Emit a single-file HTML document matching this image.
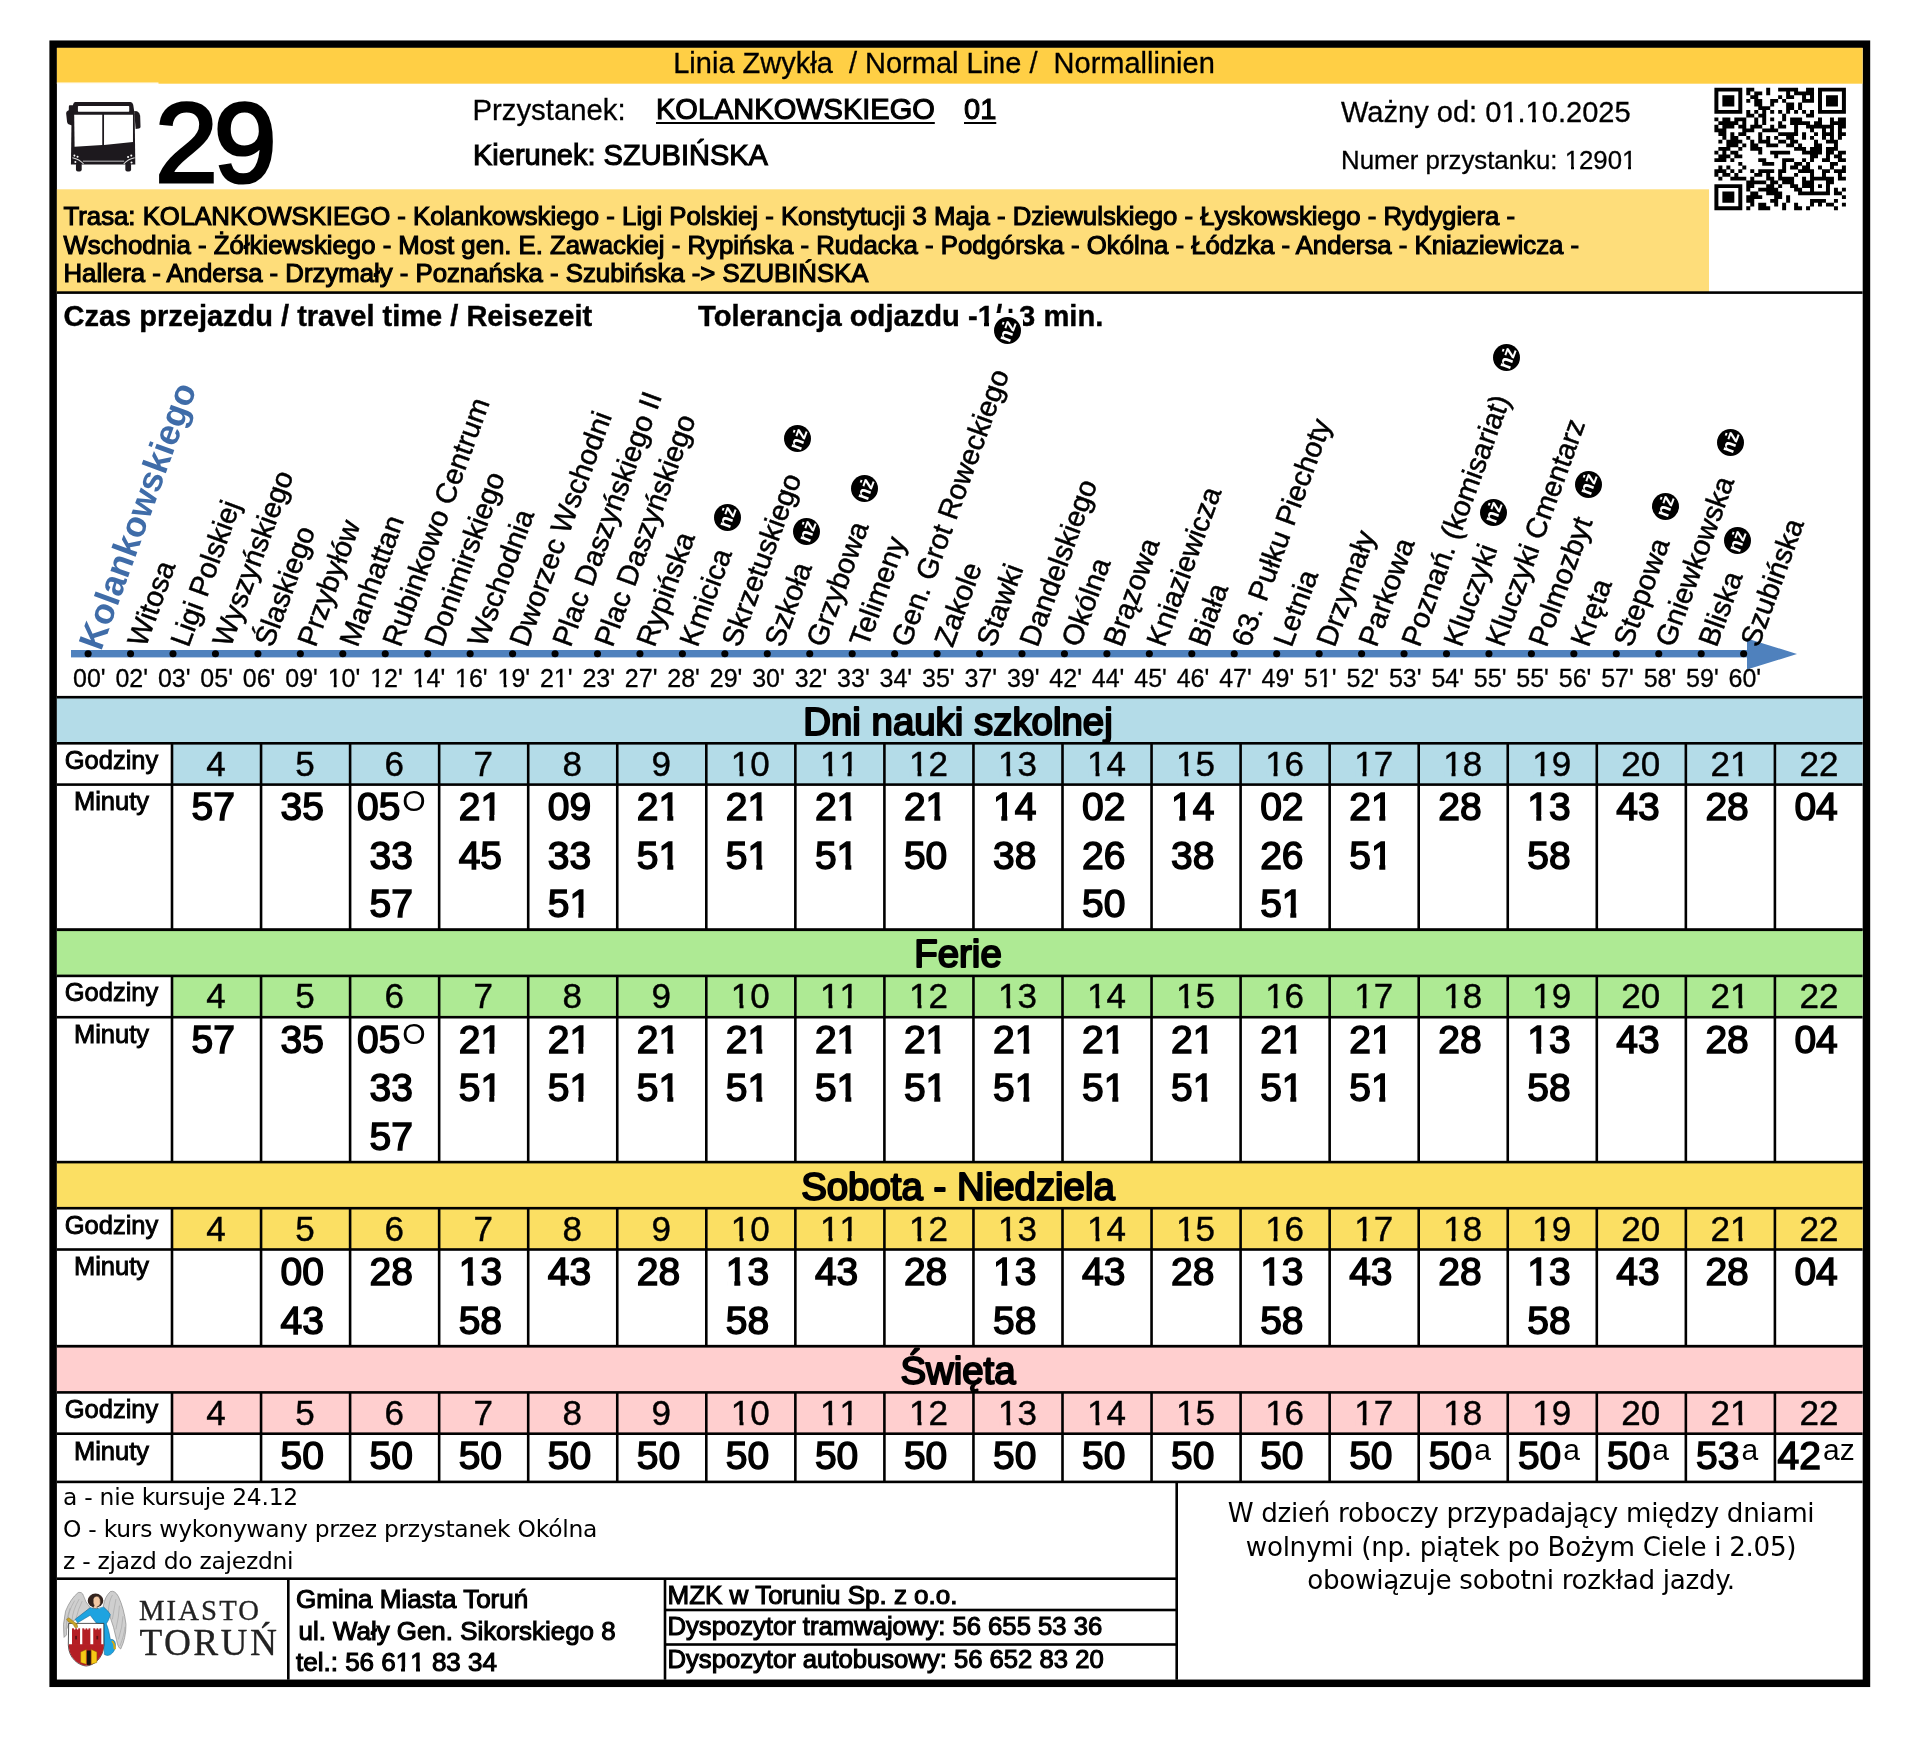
<!DOCTYPE html>
<html lang="pl"><head><meta charset="utf-8"><title>Linia 29 - KOLANKOWSKIEGO 01 - rozkład jazdy</title>
<style>
html,body{margin:0;padding:0;background:#fff;}
body{width:1920px;height:1747px;position:relative;overflow:hidden;font-family:"Liberation Sans",sans-serif;color:#000;}
.t{position:absolute;white-space:pre;line-height:1;margin:0;padding:0;}
.dv{font-family:"DejaVu Sans",sans-serif;}
.sf{font-family:"Liberation Serif",serif;}
.r{position:absolute;}
#sheet{position:absolute;left:0;top:0;width:1920px;height:1747px;will-change:transform;}
svg{position:absolute;left:0;top:0;overflow:visible;}
sup.s{font-size:30px;-webkit-text-stroke:0;vertical-align:baseline;position:relative;top:-9px;margin-left:2px;line-height:0;}
.rot{transform-origin:0 0.8465em;}
.b{font-weight:bold;}
.o{position:relative;display:inline-block;}
.o::before,.o::after{content:"";position:absolute;background:var(--bg,#fff);top:calc(0.72em - var(--s,0.019em));height:calc(0.155em + 2*var(--s,0.019em));}
.o::before{left:0.03em;width:calc(0.2125em - var(--s,0.019em));}
.o::after{left:calc(0.3488em + var(--s,0.019em));width:0.2em;}
.ob{position:relative;display:inline-block;}
.ob::before,.ob::after{content:"";position:absolute;background:var(--bg,#fff);top:calc(0.69em - var(--s,0.019em));height:calc(0.185em + 2*var(--s,0.019em));}
.ob::before{left:0.02em;width:calc(0.2054em - var(--s,0.019em));}
.ob::after{left:calc(0.3786em + var(--s,0.019em));width:0.2em;}
</style></head><body><div id="sheet">
<svg width="1920" height="1747" viewBox="0 0 1920 1747"><rect x="53.15" y="44.2" width="1813.3" height="1639.1" fill="none" stroke="#000" stroke-width="7.5"/><rect x="56.90" y="47.80" width="1805.70" height="35.90" fill="#FFCF45"/><rect x="56.90" y="82.50" width="101.60" height="1.40" fill="#FFFFFF"/><rect x="56.90" y="189.30" width="1652.10" height="103.30" fill="#FEDD7A"/><rect x="56.90" y="291.30" width="1805.70" height="2.60" fill="#000"/><rect x="71.00" y="650.00" width="1681.00" height="7.40" fill="#4F81BD"/><rect x="56.90" y="697.20" width="1805.70" height="46.10" fill="#B4DCE8"/><rect x="172.00" y="743.30" width="1690.60" height="41.30" fill="#B4DCE8"/><rect x="56.90" y="695.90" width="1805.70" height="2.60" fill="#000"/><rect x="56.90" y="742.00" width="1805.70" height="2.60" fill="#000"/><rect x="56.90" y="783.30" width="1805.70" height="2.60" fill="#000"/><rect x="56.90" y="928.40" width="1805.70" height="2.60" fill="#000"/><rect x="170.70" y="743.30" width="2.60" height="186.40" fill="#000"/><rect x="259.75" y="743.30" width="2.60" height="186.40" fill="#000"/><rect x="348.80" y="743.30" width="2.60" height="186.40" fill="#000"/><rect x="437.85" y="743.30" width="2.60" height="186.40" fill="#000"/><rect x="526.90" y="743.30" width="2.60" height="186.40" fill="#000"/><rect x="615.95" y="743.30" width="2.60" height="186.40" fill="#000"/><rect x="705.00" y="743.30" width="2.60" height="186.40" fill="#000"/><rect x="794.05" y="743.30" width="2.60" height="186.40" fill="#000"/><rect x="883.10" y="743.30" width="2.60" height="186.40" fill="#000"/><rect x="972.15" y="743.30" width="2.60" height="186.40" fill="#000"/><rect x="1061.20" y="743.30" width="2.60" height="186.40" fill="#000"/><rect x="1150.25" y="743.30" width="2.60" height="186.40" fill="#000"/><rect x="1239.30" y="743.30" width="2.60" height="186.40" fill="#000"/><rect x="1328.35" y="743.30" width="2.60" height="186.40" fill="#000"/><rect x="1417.40" y="743.30" width="2.60" height="186.40" fill="#000"/><rect x="1506.45" y="743.30" width="2.60" height="186.40" fill="#000"/><rect x="1595.50" y="743.30" width="2.60" height="186.40" fill="#000"/><rect x="1684.55" y="743.30" width="2.60" height="186.40" fill="#000"/><rect x="1773.60" y="743.30" width="2.60" height="186.40" fill="#000"/><rect x="56.90" y="929.80" width="1805.70" height="46.10" fill="#AEEA94"/><rect x="172.00" y="975.90" width="1690.60" height="41.30" fill="#AEEA94"/><rect x="56.90" y="928.50" width="1805.70" height="2.60" fill="#000"/><rect x="56.90" y="974.60" width="1805.70" height="2.60" fill="#000"/><rect x="56.90" y="1015.90" width="1805.70" height="2.60" fill="#000"/><rect x="56.90" y="1161.00" width="1805.70" height="2.60" fill="#000"/><rect x="170.70" y="975.90" width="2.60" height="186.40" fill="#000"/><rect x="259.75" y="975.90" width="2.60" height="186.40" fill="#000"/><rect x="348.80" y="975.90" width="2.60" height="186.40" fill="#000"/><rect x="437.85" y="975.90" width="2.60" height="186.40" fill="#000"/><rect x="526.90" y="975.90" width="2.60" height="186.40" fill="#000"/><rect x="615.95" y="975.90" width="2.60" height="186.40" fill="#000"/><rect x="705.00" y="975.90" width="2.60" height="186.40" fill="#000"/><rect x="794.05" y="975.90" width="2.60" height="186.40" fill="#000"/><rect x="883.10" y="975.90" width="2.60" height="186.40" fill="#000"/><rect x="972.15" y="975.90" width="2.60" height="186.40" fill="#000"/><rect x="1061.20" y="975.90" width="2.60" height="186.40" fill="#000"/><rect x="1150.25" y="975.90" width="2.60" height="186.40" fill="#000"/><rect x="1239.30" y="975.90" width="2.60" height="186.40" fill="#000"/><rect x="1328.35" y="975.90" width="2.60" height="186.40" fill="#000"/><rect x="1417.40" y="975.90" width="2.60" height="186.40" fill="#000"/><rect x="1506.45" y="975.90" width="2.60" height="186.40" fill="#000"/><rect x="1595.50" y="975.90" width="2.60" height="186.40" fill="#000"/><rect x="1684.55" y="975.90" width="2.60" height="186.40" fill="#000"/><rect x="1773.60" y="975.90" width="2.60" height="186.40" fill="#000"/><rect x="56.90" y="1162.10" width="1805.70" height="46.10" fill="#FBDF63"/><rect x="172.00" y="1208.20" width="1690.60" height="41.30" fill="#FBDF63"/><rect x="56.90" y="1160.80" width="1805.70" height="2.60" fill="#000"/><rect x="56.90" y="1206.90" width="1805.70" height="2.60" fill="#000"/><rect x="56.90" y="1248.20" width="1805.70" height="2.60" fill="#000"/><rect x="56.90" y="1344.85" width="1805.70" height="2.60" fill="#000"/><rect x="170.70" y="1208.20" width="2.60" height="137.95" fill="#000"/><rect x="259.75" y="1208.20" width="2.60" height="137.95" fill="#000"/><rect x="348.80" y="1208.20" width="2.60" height="137.95" fill="#000"/><rect x="437.85" y="1208.20" width="2.60" height="137.95" fill="#000"/><rect x="526.90" y="1208.20" width="2.60" height="137.95" fill="#000"/><rect x="615.95" y="1208.20" width="2.60" height="137.95" fill="#000"/><rect x="705.00" y="1208.20" width="2.60" height="137.95" fill="#000"/><rect x="794.05" y="1208.20" width="2.60" height="137.95" fill="#000"/><rect x="883.10" y="1208.20" width="2.60" height="137.95" fill="#000"/><rect x="972.15" y="1208.20" width="2.60" height="137.95" fill="#000"/><rect x="1061.20" y="1208.20" width="2.60" height="137.95" fill="#000"/><rect x="1150.25" y="1208.20" width="2.60" height="137.95" fill="#000"/><rect x="1239.30" y="1208.20" width="2.60" height="137.95" fill="#000"/><rect x="1328.35" y="1208.20" width="2.60" height="137.95" fill="#000"/><rect x="1417.40" y="1208.20" width="2.60" height="137.95" fill="#000"/><rect x="1506.45" y="1208.20" width="2.60" height="137.95" fill="#000"/><rect x="1595.50" y="1208.20" width="2.60" height="137.95" fill="#000"/><rect x="1684.55" y="1208.20" width="2.60" height="137.95" fill="#000"/><rect x="1773.60" y="1208.20" width="2.60" height="137.95" fill="#000"/><rect x="56.90" y="1346.30" width="1805.70" height="46.10" fill="#FFCFCF"/><rect x="172.00" y="1392.40" width="1690.60" height="41.30" fill="#FFCFCF"/><rect x="56.90" y="1345.00" width="1805.70" height="2.60" fill="#000"/><rect x="56.90" y="1391.10" width="1805.70" height="2.60" fill="#000"/><rect x="56.90" y="1432.40" width="1805.70" height="2.60" fill="#000"/><rect x="56.90" y="1480.60" width="1805.70" height="2.60" fill="#000"/><rect x="170.70" y="1392.40" width="2.60" height="89.50" fill="#000"/><rect x="259.75" y="1392.40" width="2.60" height="89.50" fill="#000"/><rect x="348.80" y="1392.40" width="2.60" height="89.50" fill="#000"/><rect x="437.85" y="1392.40" width="2.60" height="89.50" fill="#000"/><rect x="526.90" y="1392.40" width="2.60" height="89.50" fill="#000"/><rect x="615.95" y="1392.40" width="2.60" height="89.50" fill="#000"/><rect x="705.00" y="1392.40" width="2.60" height="89.50" fill="#000"/><rect x="794.05" y="1392.40" width="2.60" height="89.50" fill="#000"/><rect x="883.10" y="1392.40" width="2.60" height="89.50" fill="#000"/><rect x="972.15" y="1392.40" width="2.60" height="89.50" fill="#000"/><rect x="1061.20" y="1392.40" width="2.60" height="89.50" fill="#000"/><rect x="1150.25" y="1392.40" width="2.60" height="89.50" fill="#000"/><rect x="1239.30" y="1392.40" width="2.60" height="89.50" fill="#000"/><rect x="1328.35" y="1392.40" width="2.60" height="89.50" fill="#000"/><rect x="1417.40" y="1392.40" width="2.60" height="89.50" fill="#000"/><rect x="1506.45" y="1392.40" width="2.60" height="89.50" fill="#000"/><rect x="1595.50" y="1392.40" width="2.60" height="89.50" fill="#000"/><rect x="1684.55" y="1392.40" width="2.60" height="89.50" fill="#000"/><rect x="1773.60" y="1392.40" width="2.60" height="89.50" fill="#000"/><rect x="56.90" y="1577.40" width="1119.80" height="2.60" fill="#000"/><rect x="1175.40" y="1481.90" width="2.60" height="197.80" fill="#000"/><rect x="287.00" y="1578.70" width="2.60" height="101.00" fill="#000"/><rect x="663.70" y="1578.70" width="2.60" height="101.00" fill="#000"/><rect x="665.00" y="1608.70" width="511.70" height="2.60" fill="#000"/><rect x="665.00" y="1643.20" width="511.70" height="2.60" fill="#000"/></svg>
<div class="t" style="left:944.00px;top:49.45px;font-size:29px;transform:translateX(-50%);-webkit-text-stroke:0.3px currentColor;">Linia Zwykła  / Normal Line /  Normallinien</div>
<div class="t" style="left:155.00px;top:87.35px;font-size:113px;-webkit-text-stroke:3.2px currentColor;letter-spacing:-4px;">29</div>
<div class="t" style="left:472.50px;top:94.90px;font-size:29.3px;-webkit-text-stroke:0.3px currentColor;">Przystanek:</div>
<div class="t" style="left:656.00px;top:95.15px;font-size:29px;-webkit-text-stroke:1.1px currentColor;text-decoration:underline;text-decoration-thickness:2px;text-underline-offset:3px;">KOLANKOWSKIEGO</div>
<div class="t" style="left:964.00px;top:95.15px;font-size:29px;-webkit-text-stroke:1.1px currentColor;text-decoration:underline;text-decoration-thickness:2px;text-underline-offset:3px;">01</div>
<div class="t" style="left:473.00px;top:141.05px;font-size:29px;-webkit-text-stroke:1.1px currentColor;">Kierunek: SZUBIŃSKA</div>
<div class="t" style="left:1341.00px;top:97.91px;font-size:29.05px;-webkit-text-stroke:0.3px currentColor;--s:0.0052em;">Ważny od: 0<span class="o">1</span>.<span class="o">1</span>0.2025</div>
<div class="t" style="left:1341.00px;top:148.46px;font-size:25.8px;-webkit-text-stroke:0.3px currentColor;--s:0.0058em;">Numer przystanku: <span class="o">1</span>290<span class="o">1</span></div>
<div class="t" style="left:63.50px;top:204.00px;font-size:25.75px;-webkit-text-stroke:1.1px currentColor;">Trasa: KOLANKOWSKIEGO - Kolankowskiego - Ligi Polskiej - Konstytucji 3 Maja - Dziewulskiego - Łyskowskiego - Rydygiera -</div>
<div class="t" style="left:63.50px;top:232.70px;font-size:25.75px;-webkit-text-stroke:1.1px currentColor;">Wschodnia - Żółkiewskiego - Most gen. E. Zawackiej - Rypińska - Rudacka - Podgórska - Okólna - Łódzka - Andersa - Kniaziewicza -</div>
<div class="t" style="left:63.50px;top:261.40px;font-size:25.75px;-webkit-text-stroke:1.1px currentColor;">Hallera - Andersa - Drzymały - Poznańska - Szubińska -&gt; SZUBIŃSKA</div>
<div class="t  b" style="left:63.50px;top:302.45px;font-size:29.0px;-webkit-text-stroke:0.4px currentColor;">Czas przejazdu / travel time / Reisezeit</div>
<div class="t  b" style="left:698.00px;top:302.31px;font-size:29.17px;-webkit-text-stroke:0.4px currentColor;--s:0.0069em;">Tolerancja odjazdu -<span class="ob">1</span>/+3 min.</div>
<svg width="1920" height="1747" viewBox="0 0 1920 1747"><polygon points="1747,638.5 1797,654 1747,669.5" fill="#4F81BD"/><circle cx="88.10" cy="653.7" r="3.55" fill="#000"/><circle cx="130.55" cy="653.7" r="3.55" fill="#000"/><circle cx="173.00" cy="653.7" r="3.55" fill="#000"/><circle cx="215.45" cy="653.7" r="3.55" fill="#000"/><circle cx="257.90" cy="653.7" r="3.55" fill="#000"/><circle cx="300.35" cy="653.7" r="3.55" fill="#000"/><circle cx="342.80" cy="653.7" r="3.55" fill="#000"/><circle cx="385.25" cy="653.7" r="3.55" fill="#000"/><circle cx="427.70" cy="653.7" r="3.55" fill="#000"/><circle cx="470.15" cy="653.7" r="3.55" fill="#000"/><circle cx="512.60" cy="653.7" r="3.55" fill="#000"/><circle cx="555.05" cy="653.7" r="3.55" fill="#000"/><circle cx="597.50" cy="653.7" r="3.55" fill="#000"/><circle cx="639.95" cy="653.7" r="3.55" fill="#000"/><circle cx="682.40" cy="653.7" r="3.55" fill="#000"/><circle cx="724.85" cy="653.7" r="3.55" fill="#000"/><circle cx="767.30" cy="653.7" r="3.55" fill="#000"/><circle cx="809.75" cy="653.7" r="3.55" fill="#000"/><circle cx="852.20" cy="653.7" r="3.55" fill="#000"/><circle cx="894.65" cy="653.7" r="3.55" fill="#000"/><circle cx="937.10" cy="653.7" r="3.55" fill="#000"/><circle cx="979.55" cy="653.7" r="3.55" fill="#000"/><circle cx="1022.00" cy="653.7" r="3.55" fill="#000"/><circle cx="1064.45" cy="653.7" r="3.55" fill="#000"/><circle cx="1106.90" cy="653.7" r="3.55" fill="#000"/><circle cx="1149.35" cy="653.7" r="3.55" fill="#000"/><circle cx="1191.80" cy="653.7" r="3.55" fill="#000"/><circle cx="1234.25" cy="653.7" r="3.55" fill="#000"/><circle cx="1276.70" cy="653.7" r="3.55" fill="#000"/><circle cx="1319.15" cy="653.7" r="3.55" fill="#000"/><circle cx="1361.60" cy="653.7" r="3.55" fill="#000"/><circle cx="1404.05" cy="653.7" r="3.55" fill="#000"/><circle cx="1446.50" cy="653.7" r="3.55" fill="#000"/><circle cx="1488.95" cy="653.7" r="3.55" fill="#000"/><circle cx="1531.40" cy="653.7" r="3.55" fill="#000"/><circle cx="1573.85" cy="653.7" r="3.55" fill="#000"/><circle cx="1616.30" cy="653.7" r="3.55" fill="#000"/><circle cx="1658.75" cy="653.7" r="3.55" fill="#000"/><circle cx="1701.20" cy="653.7" r="3.55" fill="#000"/><circle cx="1743.65" cy="653.7" r="3.55" fill="#000"/></svg>
<div class="t" style="left:89.30px;top:665.94px;font-size:25px;transform:translateX(-50%);-webkit-text-stroke:0.3px currentColor;--s:0.0060em;">00&#x27;</div>
<div class="t  rot b" style="left:101.60px;top:622.15px;font-size:35.5px;color:#3F6CA8;transform:rotate(-70deg);">Kolankowskiego</div>
<div class="t" style="left:131.75px;top:665.94px;font-size:25px;transform:translateX(-50%);-webkit-text-stroke:0.3px currentColor;--s:0.0060em;">02&#x27;</div>
<div class="t  rot" style="left:146.05px;top:623.64px;font-size:28.9px;-webkit-text-stroke:0.5px currentColor;transform:rotate(-70deg);">Witosa</div>
<div class="t" style="left:174.20px;top:665.94px;font-size:25px;transform:translateX(-50%);-webkit-text-stroke:0.3px currentColor;--s:0.0060em;">03&#x27;</div>
<div class="t  rot" style="left:188.50px;top:623.64px;font-size:28.9px;-webkit-text-stroke:0.5px currentColor;transform:rotate(-70deg);">Ligi Polskiej</div>
<div class="t" style="left:216.65px;top:665.94px;font-size:25px;transform:translateX(-50%);-webkit-text-stroke:0.3px currentColor;--s:0.0060em;">05&#x27;</div>
<div class="t  rot" style="left:230.95px;top:623.64px;font-size:28.9px;-webkit-text-stroke:0.5px currentColor;transform:rotate(-70deg);">Wyszyńskiego</div>
<div class="t" style="left:259.10px;top:665.94px;font-size:25px;transform:translateX(-50%);-webkit-text-stroke:0.3px currentColor;--s:0.0060em;">06&#x27;</div>
<div class="t  rot" style="left:273.40px;top:623.64px;font-size:28.9px;-webkit-text-stroke:0.5px currentColor;transform:rotate(-70deg);">Ślaskiego</div>
<div class="t" style="left:301.55px;top:665.94px;font-size:25px;transform:translateX(-50%);-webkit-text-stroke:0.3px currentColor;--s:0.0060em;">09&#x27;</div>
<div class="t  rot" style="left:315.85px;top:623.64px;font-size:28.9px;-webkit-text-stroke:0.5px currentColor;transform:rotate(-70deg);">Przybyłów</div>
<div class="t" style="left:344.00px;top:665.94px;font-size:25px;transform:translateX(-50%);-webkit-text-stroke:0.3px currentColor;--s:0.0060em;"><span class="o">1</span>0&#x27;</div>
<div class="t  rot" style="left:358.30px;top:623.64px;font-size:28.9px;-webkit-text-stroke:0.5px currentColor;transform:rotate(-70deg);">Manhattan</div>
<div class="t" style="left:386.45px;top:665.94px;font-size:25px;transform:translateX(-50%);-webkit-text-stroke:0.3px currentColor;--s:0.0060em;"><span class="o">1</span>2&#x27;</div>
<div class="t  rot" style="left:400.75px;top:623.64px;font-size:28.9px;-webkit-text-stroke:0.5px currentColor;transform:rotate(-70deg);">Rubinkowo Centrum</div>
<div class="t" style="left:428.90px;top:665.94px;font-size:25px;transform:translateX(-50%);-webkit-text-stroke:0.3px currentColor;--s:0.0060em;"><span class="o">1</span>4&#x27;</div>
<div class="t  rot" style="left:443.20px;top:623.64px;font-size:28.9px;-webkit-text-stroke:0.5px currentColor;transform:rotate(-70deg);">Donimirskiego</div>
<div class="t" style="left:471.35px;top:665.94px;font-size:25px;transform:translateX(-50%);-webkit-text-stroke:0.3px currentColor;--s:0.0060em;"><span class="o">1</span>6&#x27;</div>
<div class="t  rot" style="left:485.65px;top:623.64px;font-size:28.9px;-webkit-text-stroke:0.5px currentColor;transform:rotate(-70deg);">Wschodnia</div>
<div class="t" style="left:513.80px;top:665.94px;font-size:25px;transform:translateX(-50%);-webkit-text-stroke:0.3px currentColor;--s:0.0060em;"><span class="o">1</span>9&#x27;</div>
<div class="t  rot" style="left:528.10px;top:623.64px;font-size:28.9px;-webkit-text-stroke:0.5px currentColor;transform:rotate(-70deg);">Dworzec Wschodni</div>
<div class="t" style="left:556.25px;top:665.94px;font-size:25px;transform:translateX(-50%);-webkit-text-stroke:0.3px currentColor;--s:0.0060em;">2<span class="o">1</span>&#x27;</div>
<div class="t  rot" style="left:570.55px;top:623.64px;font-size:28.9px;-webkit-text-stroke:0.5px currentColor;transform:rotate(-70deg);">Plac Daszyńskiego II</div>
<div class="t" style="left:598.70px;top:665.94px;font-size:25px;transform:translateX(-50%);-webkit-text-stroke:0.3px currentColor;--s:0.0060em;">23&#x27;</div>
<div class="t  rot" style="left:613.00px;top:623.64px;font-size:28.9px;-webkit-text-stroke:0.5px currentColor;transform:rotate(-70deg);">Plac Daszyńskiego</div>
<div class="t" style="left:641.15px;top:665.94px;font-size:25px;transform:translateX(-50%);-webkit-text-stroke:0.3px currentColor;--s:0.0060em;">27&#x27;</div>
<div class="t  rot" style="left:655.45px;top:623.64px;font-size:28.9px;-webkit-text-stroke:0.5px currentColor;transform:rotate(-70deg);">Rypińska</div>
<div class="t" style="left:683.60px;top:665.94px;font-size:25px;transform:translateX(-50%);-webkit-text-stroke:0.3px currentColor;--s:0.0060em;">28&#x27;</div>
<div class="t  rot" style="left:697.90px;top:623.64px;font-size:28.9px;-webkit-text-stroke:0.5px currentColor;transform:rotate(-70deg);">Kmicica</div>
<div class="t" style="left:726.05px;top:665.94px;font-size:25px;transform:translateX(-50%);-webkit-text-stroke:0.3px currentColor;--s:0.0060em;">29&#x27;</div>
<div class="t  rot" style="left:740.35px;top:623.64px;font-size:28.9px;-webkit-text-stroke:0.5px currentColor;transform:rotate(-70deg);">Skrzetuskiego</div>
<div class="t" style="left:768.50px;top:665.94px;font-size:25px;transform:translateX(-50%);-webkit-text-stroke:0.3px currentColor;--s:0.0060em;">30&#x27;</div>
<div class="t  rot" style="left:782.80px;top:623.64px;font-size:28.9px;-webkit-text-stroke:0.5px currentColor;transform:rotate(-70deg);">Szkoła</div>
<div class="t" style="left:810.95px;top:665.94px;font-size:25px;transform:translateX(-50%);-webkit-text-stroke:0.3px currentColor;--s:0.0060em;">32&#x27;</div>
<div class="t  rot" style="left:825.25px;top:623.64px;font-size:28.9px;-webkit-text-stroke:0.5px currentColor;transform:rotate(-70deg);">Grzybowa</div>
<div class="t" style="left:853.40px;top:665.94px;font-size:25px;transform:translateX(-50%);-webkit-text-stroke:0.3px currentColor;--s:0.0060em;">33&#x27;</div>
<div class="t  rot" style="left:867.70px;top:623.64px;font-size:28.9px;-webkit-text-stroke:0.5px currentColor;transform:rotate(-70deg);">Telimeny</div>
<div class="t" style="left:895.85px;top:665.94px;font-size:25px;transform:translateX(-50%);-webkit-text-stroke:0.3px currentColor;--s:0.0060em;">34&#x27;</div>
<div class="t  rot" style="left:910.15px;top:623.64px;font-size:28.9px;-webkit-text-stroke:0.5px currentColor;transform:rotate(-70deg);">Gen. Grot Roweckiego</div>
<div class="t" style="left:938.30px;top:665.94px;font-size:25px;transform:translateX(-50%);-webkit-text-stroke:0.3px currentColor;--s:0.0060em;">35&#x27;</div>
<div class="t  rot" style="left:952.60px;top:623.64px;font-size:28.9px;-webkit-text-stroke:0.5px currentColor;transform:rotate(-70deg);">Zakole</div>
<div class="t" style="left:980.75px;top:665.94px;font-size:25px;transform:translateX(-50%);-webkit-text-stroke:0.3px currentColor;--s:0.0060em;">37&#x27;</div>
<div class="t  rot" style="left:995.05px;top:623.64px;font-size:28.9px;-webkit-text-stroke:0.5px currentColor;transform:rotate(-70deg);">Stawki</div>
<div class="t" style="left:1023.20px;top:665.94px;font-size:25px;transform:translateX(-50%);-webkit-text-stroke:0.3px currentColor;--s:0.0060em;">39&#x27;</div>
<div class="t  rot" style="left:1037.50px;top:623.64px;font-size:28.9px;-webkit-text-stroke:0.5px currentColor;transform:rotate(-70deg);">Dandelskiego</div>
<div class="t" style="left:1065.65px;top:665.94px;font-size:25px;transform:translateX(-50%);-webkit-text-stroke:0.3px currentColor;--s:0.0060em;">42&#x27;</div>
<div class="t  rot" style="left:1079.95px;top:623.64px;font-size:28.9px;-webkit-text-stroke:0.5px currentColor;transform:rotate(-70deg);">Okólna</div>
<div class="t" style="left:1108.10px;top:665.94px;font-size:25px;transform:translateX(-50%);-webkit-text-stroke:0.3px currentColor;--s:0.0060em;">44&#x27;</div>
<div class="t  rot" style="left:1122.40px;top:623.64px;font-size:28.9px;-webkit-text-stroke:0.5px currentColor;transform:rotate(-70deg);">Brązowa</div>
<div class="t" style="left:1150.55px;top:665.94px;font-size:25px;transform:translateX(-50%);-webkit-text-stroke:0.3px currentColor;--s:0.0060em;">45&#x27;</div>
<div class="t  rot" style="left:1164.85px;top:623.64px;font-size:28.9px;-webkit-text-stroke:0.5px currentColor;transform:rotate(-70deg);">Kniaziewicza</div>
<div class="t" style="left:1193.00px;top:665.94px;font-size:25px;transform:translateX(-50%);-webkit-text-stroke:0.3px currentColor;--s:0.0060em;">46&#x27;</div>
<div class="t  rot" style="left:1207.30px;top:623.64px;font-size:28.9px;-webkit-text-stroke:0.5px currentColor;transform:rotate(-70deg);">Biała</div>
<div class="t" style="left:1235.45px;top:665.94px;font-size:25px;transform:translateX(-50%);-webkit-text-stroke:0.3px currentColor;--s:0.0060em;">47&#x27;</div>
<div class="t  rot" style="left:1249.75px;top:623.64px;font-size:28.9px;-webkit-text-stroke:0.5px currentColor;transform:rotate(-70deg);">63. Pułku Piechoty</div>
<div class="t" style="left:1277.90px;top:665.94px;font-size:25px;transform:translateX(-50%);-webkit-text-stroke:0.3px currentColor;--s:0.0060em;">49&#x27;</div>
<div class="t  rot" style="left:1292.20px;top:623.64px;font-size:28.9px;-webkit-text-stroke:0.5px currentColor;transform:rotate(-70deg);">Letnia</div>
<div class="t" style="left:1320.35px;top:665.94px;font-size:25px;transform:translateX(-50%);-webkit-text-stroke:0.3px currentColor;--s:0.0060em;">5<span class="o">1</span>&#x27;</div>
<div class="t  rot" style="left:1334.65px;top:623.64px;font-size:28.9px;-webkit-text-stroke:0.5px currentColor;transform:rotate(-70deg);">Drzymały</div>
<div class="t" style="left:1362.80px;top:665.94px;font-size:25px;transform:translateX(-50%);-webkit-text-stroke:0.3px currentColor;--s:0.0060em;">52&#x27;</div>
<div class="t  rot" style="left:1377.10px;top:623.64px;font-size:28.9px;-webkit-text-stroke:0.5px currentColor;transform:rotate(-70deg);">Parkowa</div>
<div class="t" style="left:1405.25px;top:665.94px;font-size:25px;transform:translateX(-50%);-webkit-text-stroke:0.3px currentColor;--s:0.0060em;">53&#x27;</div>
<div class="t  rot" style="left:1419.55px;top:623.64px;font-size:28.9px;-webkit-text-stroke:0.5px currentColor;transform:rotate(-70deg);">Poznań. (komisariat)</div>
<div class="t" style="left:1447.70px;top:665.94px;font-size:25px;transform:translateX(-50%);-webkit-text-stroke:0.3px currentColor;--s:0.0060em;">54&#x27;</div>
<div class="t  rot" style="left:1462.00px;top:623.64px;font-size:28.9px;-webkit-text-stroke:0.5px currentColor;transform:rotate(-70deg);">Kluczyki</div>
<div class="t" style="left:1490.15px;top:665.94px;font-size:25px;transform:translateX(-50%);-webkit-text-stroke:0.3px currentColor;--s:0.0060em;">55&#x27;</div>
<div class="t  rot" style="left:1504.45px;top:623.64px;font-size:28.9px;-webkit-text-stroke:0.5px currentColor;transform:rotate(-70deg);">Kluczyki Cmentarz</div>
<div class="t" style="left:1532.60px;top:665.94px;font-size:25px;transform:translateX(-50%);-webkit-text-stroke:0.3px currentColor;--s:0.0060em;">55&#x27;</div>
<div class="t  rot" style="left:1546.90px;top:623.64px;font-size:28.9px;-webkit-text-stroke:0.5px currentColor;transform:rotate(-70deg);">Polmozbyt</div>
<div class="t" style="left:1575.05px;top:665.94px;font-size:25px;transform:translateX(-50%);-webkit-text-stroke:0.3px currentColor;--s:0.0060em;">56&#x27;</div>
<div class="t  rot" style="left:1589.35px;top:623.64px;font-size:28.9px;-webkit-text-stroke:0.5px currentColor;transform:rotate(-70deg);">Kręta</div>
<div class="t" style="left:1617.50px;top:665.94px;font-size:25px;transform:translateX(-50%);-webkit-text-stroke:0.3px currentColor;--s:0.0060em;">57&#x27;</div>
<div class="t  rot" style="left:1631.80px;top:623.64px;font-size:28.9px;-webkit-text-stroke:0.5px currentColor;transform:rotate(-70deg);">Stepowa</div>
<div class="t" style="left:1659.95px;top:665.94px;font-size:25px;transform:translateX(-50%);-webkit-text-stroke:0.3px currentColor;--s:0.0060em;">58&#x27;</div>
<div class="t  rot" style="left:1674.25px;top:623.64px;font-size:28.9px;-webkit-text-stroke:0.5px currentColor;transform:rotate(-70deg);">Gniewkowska</div>
<div class="t" style="left:1702.40px;top:665.94px;font-size:25px;transform:translateX(-50%);-webkit-text-stroke:0.3px currentColor;--s:0.0060em;">59&#x27;</div>
<div class="t  rot" style="left:1716.70px;top:623.64px;font-size:28.9px;-webkit-text-stroke:0.5px currentColor;transform:rotate(-70deg);">Bliska</div>
<div class="t" style="left:1744.85px;top:665.94px;font-size:25px;transform:translateX(-50%);-webkit-text-stroke:0.3px currentColor;--s:0.0060em;">60&#x27;</div>
<div class="t  rot" style="left:1759.15px;top:623.64px;font-size:28.9px;-webkit-text-stroke:0.5px currentColor;transform:rotate(-70deg);">Szubińska</div>
<div class="r" style="left:711.5px;top:499.8px;width:31px;height:35px;background:#fff;"></div>
<div class="r" style="left:713.5px;top:503.8px;width:27px;height:27px;border-radius:50%;background:#000;"></div>
<div class="t b" style="left:727.0px;top:517.3px;font-size:19px;color:#fff;transform:translate(-50%,-50%) rotate(-70deg);">nż</div>
<div class="r" style="left:782.0px;top:421.0px;width:31px;height:35px;background:#fff;"></div>
<div class="r" style="left:784.0px;top:425.0px;width:27px;height:27px;border-radius:50%;background:#000;"></div>
<div class="t b" style="left:797.5px;top:438.5px;font-size:19px;color:#fff;transform:translate(-50%,-50%) rotate(-70deg);">nż</div>
<div class="r" style="left:791.3px;top:513.5px;width:31px;height:35px;background:#fff;"></div>
<div class="r" style="left:793.3px;top:517.5px;width:27px;height:27px;border-radius:50%;background:#000;"></div>
<div class="t b" style="left:806.8px;top:531.0px;font-size:19px;color:#fff;transform:translate(-50%,-50%) rotate(-70deg);">nż</div>
<div class="r" style="left:849.0px;top:471.2px;width:31px;height:35px;background:#fff;"></div>
<div class="r" style="left:851.0px;top:475.2px;width:27px;height:27px;border-radius:50%;background:#000;"></div>
<div class="t b" style="left:864.5px;top:488.7px;font-size:19px;color:#fff;transform:translate(-50%,-50%) rotate(-70deg);">nż</div>
<div class="r" style="left:991.7px;top:313.4px;width:31px;height:35px;background:#fff;"></div>
<div class="r" style="left:993.7px;top:317.4px;width:27px;height:27px;border-radius:50%;background:#000;"></div>
<div class="t b" style="left:1007.2px;top:330.9px;font-size:19px;color:#fff;transform:translate(-50%,-50%) rotate(-70deg);">nż</div>
<div class="r" style="left:1491.0px;top:340.3px;width:31px;height:35px;background:#fff;"></div>
<div class="r" style="left:1493.0px;top:344.3px;width:27px;height:27px;border-radius:50%;background:#000;"></div>
<div class="t b" style="left:1506.5px;top:357.8px;font-size:19px;color:#fff;transform:translate(-50%,-50%) rotate(-70deg);">nż</div>
<div class="r" style="left:1477.5px;top:494.5px;width:31px;height:35px;background:#fff;"></div>
<div class="r" style="left:1479.5px;top:498.5px;width:27px;height:27px;border-radius:50%;background:#000;"></div>
<div class="t b" style="left:1493.0px;top:512.0px;font-size:19px;color:#fff;transform:translate(-50%,-50%) rotate(-70deg);">nż</div>
<div class="r" style="left:1572.8px;top:466.5px;width:31px;height:35px;background:#fff;"></div>
<div class="r" style="left:1574.8px;top:470.5px;width:27px;height:27px;border-radius:50%;background:#000;"></div>
<div class="t b" style="left:1588.3px;top:484.0px;font-size:19px;color:#fff;transform:translate(-50%,-50%) rotate(-70deg);">nż</div>
<div class="r" style="left:1649.5px;top:488.8px;width:31px;height:35px;background:#fff;"></div>
<div class="r" style="left:1651.5px;top:492.8px;width:27px;height:27px;border-radius:50%;background:#000;"></div>
<div class="t b" style="left:1665.0px;top:506.3px;font-size:19px;color:#fff;transform:translate(-50%,-50%) rotate(-70deg);">nż</div>
<div class="r" style="left:1714.8px;top:424.5px;width:31px;height:35px;background:#fff;"></div>
<div class="r" style="left:1716.8px;top:428.5px;width:27px;height:27px;border-radius:50%;background:#000;"></div>
<div class="t b" style="left:1730.3px;top:442.0px;font-size:19px;color:#fff;transform:translate(-50%,-50%) rotate(-70deg);">nż</div>
<div class="r" style="left:1721.5px;top:523.1px;width:31px;height:35px;background:#fff;"></div>
<div class="r" style="left:1723.5px;top:527.1px;width:27px;height:27px;border-radius:50%;background:#000;"></div>
<div class="t b" style="left:1737.0px;top:540.6px;font-size:19px;color:#fff;transform:translate(-50%,-50%) rotate(-70deg);">nż</div>
<svg width="1920" height="1747" viewBox="0 0 1920 1747"><text x="958" y="734.80" text-anchor="middle" font-family="Liberation Sans, sans-serif" font-size="38.4" fill="#000" stroke="#000" stroke-width="2" stroke-linejoin="round">Dni nauki szkolnej</text></svg>
<div class="t" style="left:111.50px;top:747.61px;font-size:25.5px;transform:translateX(-50%);-webkit-text-stroke:0.9px currentColor;">Godziny</div>
<div class="t" style="left:111.50px;top:789.41px;font-size:25.5px;transform:translateX(-50%);-webkit-text-stroke:0.9px currentColor;">Minuty</div>
<div class="t" style="left:216.03px;top:745.87px;font-size:35px;transform:translateX(-50%);-webkit-text-stroke:0.4px currentColor;--bg:#B4DCE8;--s:0.006em;">4</div>
<div class="t" style="left:213.22px;top:787.39px;font-size:39px;transform:translateX(-50%);-webkit-text-stroke:1.5px currentColor;">57</div>
<div class="t" style="left:305.07px;top:745.87px;font-size:35px;transform:translateX(-50%);-webkit-text-stroke:0.4px currentColor;--bg:#B4DCE8;--s:0.006em;">5</div>
<div class="t" style="left:302.27px;top:787.39px;font-size:39px;transform:translateX(-50%);-webkit-text-stroke:1.5px currentColor;">35</div>
<div class="t" style="left:394.12px;top:745.87px;font-size:35px;transform:translateX(-50%);-webkit-text-stroke:0.4px currentColor;--bg:#B4DCE8;--s:0.006em;">6</div>
<div class="t" style="left:391.32px;top:787.39px;font-size:39px;transform:translateX(-50%);-webkit-text-stroke:1.5px currentColor;">05<sup class="s">O</sup></div>
<div class="t" style="left:391.32px;top:835.84px;font-size:39px;transform:translateX(-50%);-webkit-text-stroke:1.5px currentColor;">33</div>
<div class="t" style="left:391.32px;top:884.29px;font-size:39px;transform:translateX(-50%);-webkit-text-stroke:1.5px currentColor;">57</div>
<div class="t" style="left:483.18px;top:745.87px;font-size:35px;transform:translateX(-50%);-webkit-text-stroke:0.4px currentColor;--bg:#B4DCE8;--s:0.006em;">7</div>
<div class="t" style="left:480.38px;top:787.39px;font-size:39px;transform:translateX(-50%);-webkit-text-stroke:1.5px currentColor;">2<span class="o">1</span></div>
<div class="t" style="left:480.38px;top:835.84px;font-size:39px;transform:translateX(-50%);-webkit-text-stroke:1.5px currentColor;">45</div>
<div class="t" style="left:572.22px;top:745.87px;font-size:35px;transform:translateX(-50%);-webkit-text-stroke:0.4px currentColor;--bg:#B4DCE8;--s:0.006em;">8</div>
<div class="t" style="left:569.42px;top:787.39px;font-size:39px;transform:translateX(-50%);-webkit-text-stroke:1.5px currentColor;">09</div>
<div class="t" style="left:569.42px;top:835.84px;font-size:39px;transform:translateX(-50%);-webkit-text-stroke:1.5px currentColor;">33</div>
<div class="t" style="left:569.42px;top:884.29px;font-size:39px;transform:translateX(-50%);-webkit-text-stroke:1.5px currentColor;">5<span class="o">1</span></div>
<div class="t" style="left:661.27px;top:745.87px;font-size:35px;transform:translateX(-50%);-webkit-text-stroke:0.4px currentColor;--bg:#B4DCE8;--s:0.006em;">9</div>
<div class="t" style="left:658.48px;top:787.39px;font-size:39px;transform:translateX(-50%);-webkit-text-stroke:1.5px currentColor;">2<span class="o">1</span></div>
<div class="t" style="left:658.48px;top:835.84px;font-size:39px;transform:translateX(-50%);-webkit-text-stroke:1.5px currentColor;">5<span class="o">1</span></div>
<div class="t" style="left:750.32px;top:745.87px;font-size:35px;transform:translateX(-50%);-webkit-text-stroke:0.4px currentColor;--bg:#B4DCE8;--s:0.006em;"><span class="o">1</span>0</div>
<div class="t" style="left:747.52px;top:787.39px;font-size:39px;transform:translateX(-50%);-webkit-text-stroke:1.5px currentColor;">2<span class="o">1</span></div>
<div class="t" style="left:747.52px;top:835.84px;font-size:39px;transform:translateX(-50%);-webkit-text-stroke:1.5px currentColor;">5<span class="o">1</span></div>
<div class="t" style="left:839.38px;top:745.87px;font-size:35px;transform:translateX(-50%);-webkit-text-stroke:0.4px currentColor;--bg:#B4DCE8;--s:0.006em;"><span class="o">1</span><span class="o">1</span></div>
<div class="t" style="left:836.58px;top:787.39px;font-size:39px;transform:translateX(-50%);-webkit-text-stroke:1.5px currentColor;">2<span class="o">1</span></div>
<div class="t" style="left:836.58px;top:835.84px;font-size:39px;transform:translateX(-50%);-webkit-text-stroke:1.5px currentColor;">5<span class="o">1</span></div>
<div class="t" style="left:928.42px;top:745.87px;font-size:35px;transform:translateX(-50%);-webkit-text-stroke:0.4px currentColor;--bg:#B4DCE8;--s:0.006em;"><span class="o">1</span>2</div>
<div class="t" style="left:925.62px;top:787.39px;font-size:39px;transform:translateX(-50%);-webkit-text-stroke:1.5px currentColor;">2<span class="o">1</span></div>
<div class="t" style="left:925.62px;top:835.84px;font-size:39px;transform:translateX(-50%);-webkit-text-stroke:1.5px currentColor;">50</div>
<div class="t" style="left:1017.48px;top:745.87px;font-size:35px;transform:translateX(-50%);-webkit-text-stroke:0.4px currentColor;--bg:#B4DCE8;--s:0.006em;"><span class="o">1</span>3</div>
<div class="t" style="left:1014.68px;top:787.39px;font-size:39px;transform:translateX(-50%);-webkit-text-stroke:1.5px currentColor;"><span class="o">1</span>4</div>
<div class="t" style="left:1014.68px;top:835.84px;font-size:39px;transform:translateX(-50%);-webkit-text-stroke:1.5px currentColor;">38</div>
<div class="t" style="left:1106.53px;top:745.87px;font-size:35px;transform:translateX(-50%);-webkit-text-stroke:0.4px currentColor;--bg:#B4DCE8;--s:0.006em;"><span class="o">1</span>4</div>
<div class="t" style="left:1103.73px;top:787.39px;font-size:39px;transform:translateX(-50%);-webkit-text-stroke:1.5px currentColor;">02</div>
<div class="t" style="left:1103.73px;top:835.84px;font-size:39px;transform:translateX(-50%);-webkit-text-stroke:1.5px currentColor;">26</div>
<div class="t" style="left:1103.73px;top:884.29px;font-size:39px;transform:translateX(-50%);-webkit-text-stroke:1.5px currentColor;">50</div>
<div class="t" style="left:1195.58px;top:745.87px;font-size:35px;transform:translateX(-50%);-webkit-text-stroke:0.4px currentColor;--bg:#B4DCE8;--s:0.006em;"><span class="o">1</span>5</div>
<div class="t" style="left:1192.78px;top:787.39px;font-size:39px;transform:translateX(-50%);-webkit-text-stroke:1.5px currentColor;"><span class="o">1</span>4</div>
<div class="t" style="left:1192.78px;top:835.84px;font-size:39px;transform:translateX(-50%);-webkit-text-stroke:1.5px currentColor;">38</div>
<div class="t" style="left:1284.62px;top:745.87px;font-size:35px;transform:translateX(-50%);-webkit-text-stroke:0.4px currentColor;--bg:#B4DCE8;--s:0.006em;"><span class="o">1</span>6</div>
<div class="t" style="left:1281.83px;top:787.39px;font-size:39px;transform:translateX(-50%);-webkit-text-stroke:1.5px currentColor;">02</div>
<div class="t" style="left:1281.83px;top:835.84px;font-size:39px;transform:translateX(-50%);-webkit-text-stroke:1.5px currentColor;">26</div>
<div class="t" style="left:1281.83px;top:884.29px;font-size:39px;transform:translateX(-50%);-webkit-text-stroke:1.5px currentColor;">5<span class="o">1</span></div>
<div class="t" style="left:1373.67px;top:745.87px;font-size:35px;transform:translateX(-50%);-webkit-text-stroke:0.4px currentColor;--bg:#B4DCE8;--s:0.006em;"><span class="o">1</span>7</div>
<div class="t" style="left:1370.88px;top:787.39px;font-size:39px;transform:translateX(-50%);-webkit-text-stroke:1.5px currentColor;">2<span class="o">1</span></div>
<div class="t" style="left:1370.88px;top:835.84px;font-size:39px;transform:translateX(-50%);-webkit-text-stroke:1.5px currentColor;">5<span class="o">1</span></div>
<div class="t" style="left:1462.72px;top:745.87px;font-size:35px;transform:translateX(-50%);-webkit-text-stroke:0.4px currentColor;--bg:#B4DCE8;--s:0.006em;"><span class="o">1</span>8</div>
<div class="t" style="left:1459.92px;top:787.39px;font-size:39px;transform:translateX(-50%);-webkit-text-stroke:1.5px currentColor;">28</div>
<div class="t" style="left:1551.77px;top:745.87px;font-size:35px;transform:translateX(-50%);-webkit-text-stroke:0.4px currentColor;--bg:#B4DCE8;--s:0.006em;"><span class="o">1</span>9</div>
<div class="t" style="left:1548.97px;top:787.39px;font-size:39px;transform:translateX(-50%);-webkit-text-stroke:1.5px currentColor;"><span class="o">1</span>3</div>
<div class="t" style="left:1548.97px;top:835.84px;font-size:39px;transform:translateX(-50%);-webkit-text-stroke:1.5px currentColor;">58</div>
<div class="t" style="left:1640.83px;top:745.87px;font-size:35px;transform:translateX(-50%);-webkit-text-stroke:0.4px currentColor;--bg:#B4DCE8;--s:0.006em;">20</div>
<div class="t" style="left:1638.03px;top:787.39px;font-size:39px;transform:translateX(-50%);-webkit-text-stroke:1.5px currentColor;">43</div>
<div class="t" style="left:1729.88px;top:745.87px;font-size:35px;transform:translateX(-50%);-webkit-text-stroke:0.4px currentColor;--bg:#B4DCE8;--s:0.006em;">2<span class="o">1</span></div>
<div class="t" style="left:1727.08px;top:787.39px;font-size:39px;transform:translateX(-50%);-webkit-text-stroke:1.5px currentColor;">28</div>
<div class="t" style="left:1818.92px;top:745.87px;font-size:35px;transform:translateX(-50%);-webkit-text-stroke:0.4px currentColor;--bg:#B4DCE8;--s:0.006em;">22</div>
<div class="t" style="left:1816.12px;top:787.39px;font-size:39px;transform:translateX(-50%);-webkit-text-stroke:1.5px currentColor;">04</div>
<svg width="1920" height="1747" viewBox="0 0 1920 1747"><text x="958" y="967.40" text-anchor="middle" font-family="Liberation Sans, sans-serif" font-size="38.4" fill="#000" stroke="#000" stroke-width="2" stroke-linejoin="round">Ferie</text></svg>
<div class="t" style="left:111.50px;top:980.21px;font-size:25.5px;transform:translateX(-50%);-webkit-text-stroke:0.9px currentColor;">Godziny</div>
<div class="t" style="left:111.50px;top:1022.01px;font-size:25.5px;transform:translateX(-50%);-webkit-text-stroke:0.9px currentColor;">Minuty</div>
<div class="t" style="left:216.03px;top:978.47px;font-size:35px;transform:translateX(-50%);-webkit-text-stroke:0.4px currentColor;--bg:#AEEA94;--s:0.006em;">4</div>
<div class="t" style="left:213.22px;top:1019.99px;font-size:39px;transform:translateX(-50%);-webkit-text-stroke:1.5px currentColor;">57</div>
<div class="t" style="left:305.07px;top:978.47px;font-size:35px;transform:translateX(-50%);-webkit-text-stroke:0.4px currentColor;--bg:#AEEA94;--s:0.006em;">5</div>
<div class="t" style="left:302.27px;top:1019.99px;font-size:39px;transform:translateX(-50%);-webkit-text-stroke:1.5px currentColor;">35</div>
<div class="t" style="left:394.12px;top:978.47px;font-size:35px;transform:translateX(-50%);-webkit-text-stroke:0.4px currentColor;--bg:#AEEA94;--s:0.006em;">6</div>
<div class="t" style="left:391.32px;top:1019.99px;font-size:39px;transform:translateX(-50%);-webkit-text-stroke:1.5px currentColor;">05<sup class="s">O</sup></div>
<div class="t" style="left:391.32px;top:1068.44px;font-size:39px;transform:translateX(-50%);-webkit-text-stroke:1.5px currentColor;">33</div>
<div class="t" style="left:391.32px;top:1116.89px;font-size:39px;transform:translateX(-50%);-webkit-text-stroke:1.5px currentColor;">57</div>
<div class="t" style="left:483.18px;top:978.47px;font-size:35px;transform:translateX(-50%);-webkit-text-stroke:0.4px currentColor;--bg:#AEEA94;--s:0.006em;">7</div>
<div class="t" style="left:480.38px;top:1019.99px;font-size:39px;transform:translateX(-50%);-webkit-text-stroke:1.5px currentColor;">2<span class="o">1</span></div>
<div class="t" style="left:480.38px;top:1068.44px;font-size:39px;transform:translateX(-50%);-webkit-text-stroke:1.5px currentColor;">5<span class="o">1</span></div>
<div class="t" style="left:572.22px;top:978.47px;font-size:35px;transform:translateX(-50%);-webkit-text-stroke:0.4px currentColor;--bg:#AEEA94;--s:0.006em;">8</div>
<div class="t" style="left:569.42px;top:1019.99px;font-size:39px;transform:translateX(-50%);-webkit-text-stroke:1.5px currentColor;">2<span class="o">1</span></div>
<div class="t" style="left:569.42px;top:1068.44px;font-size:39px;transform:translateX(-50%);-webkit-text-stroke:1.5px currentColor;">5<span class="o">1</span></div>
<div class="t" style="left:661.27px;top:978.47px;font-size:35px;transform:translateX(-50%);-webkit-text-stroke:0.4px currentColor;--bg:#AEEA94;--s:0.006em;">9</div>
<div class="t" style="left:658.48px;top:1019.99px;font-size:39px;transform:translateX(-50%);-webkit-text-stroke:1.5px currentColor;">2<span class="o">1</span></div>
<div class="t" style="left:658.48px;top:1068.44px;font-size:39px;transform:translateX(-50%);-webkit-text-stroke:1.5px currentColor;">5<span class="o">1</span></div>
<div class="t" style="left:750.32px;top:978.47px;font-size:35px;transform:translateX(-50%);-webkit-text-stroke:0.4px currentColor;--bg:#AEEA94;--s:0.006em;"><span class="o">1</span>0</div>
<div class="t" style="left:747.52px;top:1019.99px;font-size:39px;transform:translateX(-50%);-webkit-text-stroke:1.5px currentColor;">2<span class="o">1</span></div>
<div class="t" style="left:747.52px;top:1068.44px;font-size:39px;transform:translateX(-50%);-webkit-text-stroke:1.5px currentColor;">5<span class="o">1</span></div>
<div class="t" style="left:839.38px;top:978.47px;font-size:35px;transform:translateX(-50%);-webkit-text-stroke:0.4px currentColor;--bg:#AEEA94;--s:0.006em;"><span class="o">1</span><span class="o">1</span></div>
<div class="t" style="left:836.58px;top:1019.99px;font-size:39px;transform:translateX(-50%);-webkit-text-stroke:1.5px currentColor;">2<span class="o">1</span></div>
<div class="t" style="left:836.58px;top:1068.44px;font-size:39px;transform:translateX(-50%);-webkit-text-stroke:1.5px currentColor;">5<span class="o">1</span></div>
<div class="t" style="left:928.42px;top:978.47px;font-size:35px;transform:translateX(-50%);-webkit-text-stroke:0.4px currentColor;--bg:#AEEA94;--s:0.006em;"><span class="o">1</span>2</div>
<div class="t" style="left:925.62px;top:1019.99px;font-size:39px;transform:translateX(-50%);-webkit-text-stroke:1.5px currentColor;">2<span class="o">1</span></div>
<div class="t" style="left:925.62px;top:1068.44px;font-size:39px;transform:translateX(-50%);-webkit-text-stroke:1.5px currentColor;">5<span class="o">1</span></div>
<div class="t" style="left:1017.48px;top:978.47px;font-size:35px;transform:translateX(-50%);-webkit-text-stroke:0.4px currentColor;--bg:#AEEA94;--s:0.006em;"><span class="o">1</span>3</div>
<div class="t" style="left:1014.68px;top:1019.99px;font-size:39px;transform:translateX(-50%);-webkit-text-stroke:1.5px currentColor;">2<span class="o">1</span></div>
<div class="t" style="left:1014.68px;top:1068.44px;font-size:39px;transform:translateX(-50%);-webkit-text-stroke:1.5px currentColor;">5<span class="o">1</span></div>
<div class="t" style="left:1106.53px;top:978.47px;font-size:35px;transform:translateX(-50%);-webkit-text-stroke:0.4px currentColor;--bg:#AEEA94;--s:0.006em;"><span class="o">1</span>4</div>
<div class="t" style="left:1103.73px;top:1019.99px;font-size:39px;transform:translateX(-50%);-webkit-text-stroke:1.5px currentColor;">2<span class="o">1</span></div>
<div class="t" style="left:1103.73px;top:1068.44px;font-size:39px;transform:translateX(-50%);-webkit-text-stroke:1.5px currentColor;">5<span class="o">1</span></div>
<div class="t" style="left:1195.58px;top:978.47px;font-size:35px;transform:translateX(-50%);-webkit-text-stroke:0.4px currentColor;--bg:#AEEA94;--s:0.006em;"><span class="o">1</span>5</div>
<div class="t" style="left:1192.78px;top:1019.99px;font-size:39px;transform:translateX(-50%);-webkit-text-stroke:1.5px currentColor;">2<span class="o">1</span></div>
<div class="t" style="left:1192.78px;top:1068.44px;font-size:39px;transform:translateX(-50%);-webkit-text-stroke:1.5px currentColor;">5<span class="o">1</span></div>
<div class="t" style="left:1284.62px;top:978.47px;font-size:35px;transform:translateX(-50%);-webkit-text-stroke:0.4px currentColor;--bg:#AEEA94;--s:0.006em;"><span class="o">1</span>6</div>
<div class="t" style="left:1281.83px;top:1019.99px;font-size:39px;transform:translateX(-50%);-webkit-text-stroke:1.5px currentColor;">2<span class="o">1</span></div>
<div class="t" style="left:1281.83px;top:1068.44px;font-size:39px;transform:translateX(-50%);-webkit-text-stroke:1.5px currentColor;">5<span class="o">1</span></div>
<div class="t" style="left:1373.67px;top:978.47px;font-size:35px;transform:translateX(-50%);-webkit-text-stroke:0.4px currentColor;--bg:#AEEA94;--s:0.006em;"><span class="o">1</span>7</div>
<div class="t" style="left:1370.88px;top:1019.99px;font-size:39px;transform:translateX(-50%);-webkit-text-stroke:1.5px currentColor;">2<span class="o">1</span></div>
<div class="t" style="left:1370.88px;top:1068.44px;font-size:39px;transform:translateX(-50%);-webkit-text-stroke:1.5px currentColor;">5<span class="o">1</span></div>
<div class="t" style="left:1462.72px;top:978.47px;font-size:35px;transform:translateX(-50%);-webkit-text-stroke:0.4px currentColor;--bg:#AEEA94;--s:0.006em;"><span class="o">1</span>8</div>
<div class="t" style="left:1459.92px;top:1019.99px;font-size:39px;transform:translateX(-50%);-webkit-text-stroke:1.5px currentColor;">28</div>
<div class="t" style="left:1551.77px;top:978.47px;font-size:35px;transform:translateX(-50%);-webkit-text-stroke:0.4px currentColor;--bg:#AEEA94;--s:0.006em;"><span class="o">1</span>9</div>
<div class="t" style="left:1548.97px;top:1019.99px;font-size:39px;transform:translateX(-50%);-webkit-text-stroke:1.5px currentColor;"><span class="o">1</span>3</div>
<div class="t" style="left:1548.97px;top:1068.44px;font-size:39px;transform:translateX(-50%);-webkit-text-stroke:1.5px currentColor;">58</div>
<div class="t" style="left:1640.83px;top:978.47px;font-size:35px;transform:translateX(-50%);-webkit-text-stroke:0.4px currentColor;--bg:#AEEA94;--s:0.006em;">20</div>
<div class="t" style="left:1638.03px;top:1019.99px;font-size:39px;transform:translateX(-50%);-webkit-text-stroke:1.5px currentColor;">43</div>
<div class="t" style="left:1729.88px;top:978.47px;font-size:35px;transform:translateX(-50%);-webkit-text-stroke:0.4px currentColor;--bg:#AEEA94;--s:0.006em;">2<span class="o">1</span></div>
<div class="t" style="left:1727.08px;top:1019.99px;font-size:39px;transform:translateX(-50%);-webkit-text-stroke:1.5px currentColor;">28</div>
<div class="t" style="left:1818.92px;top:978.47px;font-size:35px;transform:translateX(-50%);-webkit-text-stroke:0.4px currentColor;--bg:#AEEA94;--s:0.006em;">22</div>
<div class="t" style="left:1816.12px;top:1019.99px;font-size:39px;transform:translateX(-50%);-webkit-text-stroke:1.5px currentColor;">04</div>
<svg width="1920" height="1747" viewBox="0 0 1920 1747"><text x="958" y="1199.70" text-anchor="middle" font-family="Liberation Sans, sans-serif" font-size="38.4" fill="#000" stroke="#000" stroke-width="2" stroke-linejoin="round">Sobota - Niedziela</text></svg>
<div class="t" style="left:111.50px;top:1212.51px;font-size:25.5px;transform:translateX(-50%);-webkit-text-stroke:0.9px currentColor;">Godziny</div>
<div class="t" style="left:111.50px;top:1254.31px;font-size:25.5px;transform:translateX(-50%);-webkit-text-stroke:0.9px currentColor;">Minuty</div>
<div class="t" style="left:216.03px;top:1210.77px;font-size:35px;transform:translateX(-50%);-webkit-text-stroke:0.4px currentColor;--bg:#FBDF63;--s:0.006em;">4</div>
<div class="t" style="left:305.07px;top:1210.77px;font-size:35px;transform:translateX(-50%);-webkit-text-stroke:0.4px currentColor;--bg:#FBDF63;--s:0.006em;">5</div>
<div class="t" style="left:302.27px;top:1252.29px;font-size:39px;transform:translateX(-50%);-webkit-text-stroke:1.5px currentColor;">00</div>
<div class="t" style="left:302.27px;top:1300.74px;font-size:39px;transform:translateX(-50%);-webkit-text-stroke:1.5px currentColor;">43</div>
<div class="t" style="left:394.12px;top:1210.77px;font-size:35px;transform:translateX(-50%);-webkit-text-stroke:0.4px currentColor;--bg:#FBDF63;--s:0.006em;">6</div>
<div class="t" style="left:391.32px;top:1252.29px;font-size:39px;transform:translateX(-50%);-webkit-text-stroke:1.5px currentColor;">28</div>
<div class="t" style="left:483.18px;top:1210.77px;font-size:35px;transform:translateX(-50%);-webkit-text-stroke:0.4px currentColor;--bg:#FBDF63;--s:0.006em;">7</div>
<div class="t" style="left:480.38px;top:1252.29px;font-size:39px;transform:translateX(-50%);-webkit-text-stroke:1.5px currentColor;"><span class="o">1</span>3</div>
<div class="t" style="left:480.38px;top:1300.74px;font-size:39px;transform:translateX(-50%);-webkit-text-stroke:1.5px currentColor;">58</div>
<div class="t" style="left:572.22px;top:1210.77px;font-size:35px;transform:translateX(-50%);-webkit-text-stroke:0.4px currentColor;--bg:#FBDF63;--s:0.006em;">8</div>
<div class="t" style="left:569.42px;top:1252.29px;font-size:39px;transform:translateX(-50%);-webkit-text-stroke:1.5px currentColor;">43</div>
<div class="t" style="left:661.27px;top:1210.77px;font-size:35px;transform:translateX(-50%);-webkit-text-stroke:0.4px currentColor;--bg:#FBDF63;--s:0.006em;">9</div>
<div class="t" style="left:658.48px;top:1252.29px;font-size:39px;transform:translateX(-50%);-webkit-text-stroke:1.5px currentColor;">28</div>
<div class="t" style="left:750.32px;top:1210.77px;font-size:35px;transform:translateX(-50%);-webkit-text-stroke:0.4px currentColor;--bg:#FBDF63;--s:0.006em;"><span class="o">1</span>0</div>
<div class="t" style="left:747.52px;top:1252.29px;font-size:39px;transform:translateX(-50%);-webkit-text-stroke:1.5px currentColor;"><span class="o">1</span>3</div>
<div class="t" style="left:747.52px;top:1300.74px;font-size:39px;transform:translateX(-50%);-webkit-text-stroke:1.5px currentColor;">58</div>
<div class="t" style="left:839.38px;top:1210.77px;font-size:35px;transform:translateX(-50%);-webkit-text-stroke:0.4px currentColor;--bg:#FBDF63;--s:0.006em;"><span class="o">1</span><span class="o">1</span></div>
<div class="t" style="left:836.58px;top:1252.29px;font-size:39px;transform:translateX(-50%);-webkit-text-stroke:1.5px currentColor;">43</div>
<div class="t" style="left:928.42px;top:1210.77px;font-size:35px;transform:translateX(-50%);-webkit-text-stroke:0.4px currentColor;--bg:#FBDF63;--s:0.006em;"><span class="o">1</span>2</div>
<div class="t" style="left:925.62px;top:1252.29px;font-size:39px;transform:translateX(-50%);-webkit-text-stroke:1.5px currentColor;">28</div>
<div class="t" style="left:1017.48px;top:1210.77px;font-size:35px;transform:translateX(-50%);-webkit-text-stroke:0.4px currentColor;--bg:#FBDF63;--s:0.006em;"><span class="o">1</span>3</div>
<div class="t" style="left:1014.68px;top:1252.29px;font-size:39px;transform:translateX(-50%);-webkit-text-stroke:1.5px currentColor;"><span class="o">1</span>3</div>
<div class="t" style="left:1014.68px;top:1300.74px;font-size:39px;transform:translateX(-50%);-webkit-text-stroke:1.5px currentColor;">58</div>
<div class="t" style="left:1106.53px;top:1210.77px;font-size:35px;transform:translateX(-50%);-webkit-text-stroke:0.4px currentColor;--bg:#FBDF63;--s:0.006em;"><span class="o">1</span>4</div>
<div class="t" style="left:1103.73px;top:1252.29px;font-size:39px;transform:translateX(-50%);-webkit-text-stroke:1.5px currentColor;">43</div>
<div class="t" style="left:1195.58px;top:1210.77px;font-size:35px;transform:translateX(-50%);-webkit-text-stroke:0.4px currentColor;--bg:#FBDF63;--s:0.006em;"><span class="o">1</span>5</div>
<div class="t" style="left:1192.78px;top:1252.29px;font-size:39px;transform:translateX(-50%);-webkit-text-stroke:1.5px currentColor;">28</div>
<div class="t" style="left:1284.62px;top:1210.77px;font-size:35px;transform:translateX(-50%);-webkit-text-stroke:0.4px currentColor;--bg:#FBDF63;--s:0.006em;"><span class="o">1</span>6</div>
<div class="t" style="left:1281.83px;top:1252.29px;font-size:39px;transform:translateX(-50%);-webkit-text-stroke:1.5px currentColor;"><span class="o">1</span>3</div>
<div class="t" style="left:1281.83px;top:1300.74px;font-size:39px;transform:translateX(-50%);-webkit-text-stroke:1.5px currentColor;">58</div>
<div class="t" style="left:1373.67px;top:1210.77px;font-size:35px;transform:translateX(-50%);-webkit-text-stroke:0.4px currentColor;--bg:#FBDF63;--s:0.006em;"><span class="o">1</span>7</div>
<div class="t" style="left:1370.88px;top:1252.29px;font-size:39px;transform:translateX(-50%);-webkit-text-stroke:1.5px currentColor;">43</div>
<div class="t" style="left:1462.72px;top:1210.77px;font-size:35px;transform:translateX(-50%);-webkit-text-stroke:0.4px currentColor;--bg:#FBDF63;--s:0.006em;"><span class="o">1</span>8</div>
<div class="t" style="left:1459.92px;top:1252.29px;font-size:39px;transform:translateX(-50%);-webkit-text-stroke:1.5px currentColor;">28</div>
<div class="t" style="left:1551.77px;top:1210.77px;font-size:35px;transform:translateX(-50%);-webkit-text-stroke:0.4px currentColor;--bg:#FBDF63;--s:0.006em;"><span class="o">1</span>9</div>
<div class="t" style="left:1548.97px;top:1252.29px;font-size:39px;transform:translateX(-50%);-webkit-text-stroke:1.5px currentColor;"><span class="o">1</span>3</div>
<div class="t" style="left:1548.97px;top:1300.74px;font-size:39px;transform:translateX(-50%);-webkit-text-stroke:1.5px currentColor;">58</div>
<div class="t" style="left:1640.83px;top:1210.77px;font-size:35px;transform:translateX(-50%);-webkit-text-stroke:0.4px currentColor;--bg:#FBDF63;--s:0.006em;">20</div>
<div class="t" style="left:1638.03px;top:1252.29px;font-size:39px;transform:translateX(-50%);-webkit-text-stroke:1.5px currentColor;">43</div>
<div class="t" style="left:1729.88px;top:1210.77px;font-size:35px;transform:translateX(-50%);-webkit-text-stroke:0.4px currentColor;--bg:#FBDF63;--s:0.006em;">2<span class="o">1</span></div>
<div class="t" style="left:1727.08px;top:1252.29px;font-size:39px;transform:translateX(-50%);-webkit-text-stroke:1.5px currentColor;">28</div>
<div class="t" style="left:1818.92px;top:1210.77px;font-size:35px;transform:translateX(-50%);-webkit-text-stroke:0.4px currentColor;--bg:#FBDF63;--s:0.006em;">22</div>
<div class="t" style="left:1816.12px;top:1252.29px;font-size:39px;transform:translateX(-50%);-webkit-text-stroke:1.5px currentColor;">04</div>
<svg width="1920" height="1747" viewBox="0 0 1920 1747"><text x="958" y="1383.90" text-anchor="middle" font-family="Liberation Sans, sans-serif" font-size="38.4" fill="#000" stroke="#000" stroke-width="2" stroke-linejoin="round">Święta</text></svg>
<div class="t" style="left:111.50px;top:1396.71px;font-size:25.5px;transform:translateX(-50%);-webkit-text-stroke:0.9px currentColor;">Godziny</div>
<div class="t" style="left:111.50px;top:1438.51px;font-size:25.5px;transform:translateX(-50%);-webkit-text-stroke:0.9px currentColor;">Minuty</div>
<div class="t" style="left:216.03px;top:1394.97px;font-size:35px;transform:translateX(-50%);-webkit-text-stroke:0.4px currentColor;--bg:#FFCFCF;--s:0.006em;">4</div>
<div class="t" style="left:305.07px;top:1394.97px;font-size:35px;transform:translateX(-50%);-webkit-text-stroke:0.4px currentColor;--bg:#FFCFCF;--s:0.006em;">5</div>
<div class="t" style="left:302.27px;top:1436.49px;font-size:39px;transform:translateX(-50%);-webkit-text-stroke:1.5px currentColor;">50</div>
<div class="t" style="left:394.12px;top:1394.97px;font-size:35px;transform:translateX(-50%);-webkit-text-stroke:0.4px currentColor;--bg:#FFCFCF;--s:0.006em;">6</div>
<div class="t" style="left:391.32px;top:1436.49px;font-size:39px;transform:translateX(-50%);-webkit-text-stroke:1.5px currentColor;">50</div>
<div class="t" style="left:483.18px;top:1394.97px;font-size:35px;transform:translateX(-50%);-webkit-text-stroke:0.4px currentColor;--bg:#FFCFCF;--s:0.006em;">7</div>
<div class="t" style="left:480.38px;top:1436.49px;font-size:39px;transform:translateX(-50%);-webkit-text-stroke:1.5px currentColor;">50</div>
<div class="t" style="left:572.22px;top:1394.97px;font-size:35px;transform:translateX(-50%);-webkit-text-stroke:0.4px currentColor;--bg:#FFCFCF;--s:0.006em;">8</div>
<div class="t" style="left:569.42px;top:1436.49px;font-size:39px;transform:translateX(-50%);-webkit-text-stroke:1.5px currentColor;">50</div>
<div class="t" style="left:661.27px;top:1394.97px;font-size:35px;transform:translateX(-50%);-webkit-text-stroke:0.4px currentColor;--bg:#FFCFCF;--s:0.006em;">9</div>
<div class="t" style="left:658.48px;top:1436.49px;font-size:39px;transform:translateX(-50%);-webkit-text-stroke:1.5px currentColor;">50</div>
<div class="t" style="left:750.32px;top:1394.97px;font-size:35px;transform:translateX(-50%);-webkit-text-stroke:0.4px currentColor;--bg:#FFCFCF;--s:0.006em;"><span class="o">1</span>0</div>
<div class="t" style="left:747.52px;top:1436.49px;font-size:39px;transform:translateX(-50%);-webkit-text-stroke:1.5px currentColor;">50</div>
<div class="t" style="left:839.38px;top:1394.97px;font-size:35px;transform:translateX(-50%);-webkit-text-stroke:0.4px currentColor;--bg:#FFCFCF;--s:0.006em;"><span class="o">1</span><span class="o">1</span></div>
<div class="t" style="left:836.58px;top:1436.49px;font-size:39px;transform:translateX(-50%);-webkit-text-stroke:1.5px currentColor;">50</div>
<div class="t" style="left:928.42px;top:1394.97px;font-size:35px;transform:translateX(-50%);-webkit-text-stroke:0.4px currentColor;--bg:#FFCFCF;--s:0.006em;"><span class="o">1</span>2</div>
<div class="t" style="left:925.62px;top:1436.49px;font-size:39px;transform:translateX(-50%);-webkit-text-stroke:1.5px currentColor;">50</div>
<div class="t" style="left:1017.48px;top:1394.97px;font-size:35px;transform:translateX(-50%);-webkit-text-stroke:0.4px currentColor;--bg:#FFCFCF;--s:0.006em;"><span class="o">1</span>3</div>
<div class="t" style="left:1014.68px;top:1436.49px;font-size:39px;transform:translateX(-50%);-webkit-text-stroke:1.5px currentColor;">50</div>
<div class="t" style="left:1106.53px;top:1394.97px;font-size:35px;transform:translateX(-50%);-webkit-text-stroke:0.4px currentColor;--bg:#FFCFCF;--s:0.006em;"><span class="o">1</span>4</div>
<div class="t" style="left:1103.73px;top:1436.49px;font-size:39px;transform:translateX(-50%);-webkit-text-stroke:1.5px currentColor;">50</div>
<div class="t" style="left:1195.58px;top:1394.97px;font-size:35px;transform:translateX(-50%);-webkit-text-stroke:0.4px currentColor;--bg:#FFCFCF;--s:0.006em;"><span class="o">1</span>5</div>
<div class="t" style="left:1192.78px;top:1436.49px;font-size:39px;transform:translateX(-50%);-webkit-text-stroke:1.5px currentColor;">50</div>
<div class="t" style="left:1284.62px;top:1394.97px;font-size:35px;transform:translateX(-50%);-webkit-text-stroke:0.4px currentColor;--bg:#FFCFCF;--s:0.006em;"><span class="o">1</span>6</div>
<div class="t" style="left:1281.83px;top:1436.49px;font-size:39px;transform:translateX(-50%);-webkit-text-stroke:1.5px currentColor;">50</div>
<div class="t" style="left:1373.67px;top:1394.97px;font-size:35px;transform:translateX(-50%);-webkit-text-stroke:0.4px currentColor;--bg:#FFCFCF;--s:0.006em;"><span class="o">1</span>7</div>
<div class="t" style="left:1370.88px;top:1436.49px;font-size:39px;transform:translateX(-50%);-webkit-text-stroke:1.5px currentColor;">50</div>
<div class="t" style="left:1462.72px;top:1394.97px;font-size:35px;transform:translateX(-50%);-webkit-text-stroke:0.4px currentColor;--bg:#FFCFCF;--s:0.006em;"><span class="o">1</span>8</div>
<div class="t" style="left:1459.92px;top:1436.49px;font-size:39px;transform:translateX(-50%);-webkit-text-stroke:1.5px currentColor;">50<sup class="s">a</sup></div>
<div class="t" style="left:1551.77px;top:1394.97px;font-size:35px;transform:translateX(-50%);-webkit-text-stroke:0.4px currentColor;--bg:#FFCFCF;--s:0.006em;"><span class="o">1</span>9</div>
<div class="t" style="left:1548.97px;top:1436.49px;font-size:39px;transform:translateX(-50%);-webkit-text-stroke:1.5px currentColor;">50<sup class="s">a</sup></div>
<div class="t" style="left:1640.83px;top:1394.97px;font-size:35px;transform:translateX(-50%);-webkit-text-stroke:0.4px currentColor;--bg:#FFCFCF;--s:0.006em;">20</div>
<div class="t" style="left:1638.03px;top:1436.49px;font-size:39px;transform:translateX(-50%);-webkit-text-stroke:1.5px currentColor;">50<sup class="s">a</sup></div>
<div class="t" style="left:1729.88px;top:1394.97px;font-size:35px;transform:translateX(-50%);-webkit-text-stroke:0.4px currentColor;--bg:#FFCFCF;--s:0.006em;">2<span class="o">1</span></div>
<div class="t" style="left:1727.08px;top:1436.49px;font-size:39px;transform:translateX(-50%);-webkit-text-stroke:1.5px currentColor;">53<sup class="s">a</sup></div>
<div class="t" style="left:1818.92px;top:1394.97px;font-size:35px;transform:translateX(-50%);-webkit-text-stroke:0.4px currentColor;--bg:#FFCFCF;--s:0.006em;">22</div>
<div class="t" style="left:1816.12px;top:1436.49px;font-size:39px;transform:translateX(-50%);-webkit-text-stroke:1.5px currentColor;">42<sup class="s">az</sup></div>
<div class="t dv" style="left:63.00px;top:1486.20px;font-size:23.4px;letter-spacing:-0.26px;">a - nie kursuje 24.12</div>
<div class="t dv" style="left:63.00px;top:1518.20px;font-size:23.4px;letter-spacing:-0.26px;">O - kurs wykonywany przez przystanek Okólna</div>
<div class="t dv" style="left:63.00px;top:1550.20px;font-size:23.4px;letter-spacing:-0.26px;">z - zjazd do zajezdni</div>
<div class="t" style="left:296.00px;top:1585.99px;font-size:26px;-webkit-text-stroke:1.1px currentColor;">Gmina Miasta Toruń</div>
<div class="t" style="left:298.50px;top:1618.58px;font-size:25.9px;-webkit-text-stroke:1.1px currentColor;">ul. Wały Gen. Sikorskiego 8</div>
<div class="t" style="left:296.00px;top:1648.99px;font-size:26px;-webkit-text-stroke:1.1px currentColor;--s:0.0212em;">tel.: 56 6<span class="o">1</span><span class="o">1</span> 83 34</div>
<div class="t" style="left:667.50px;top:1581.99px;font-size:26px;-webkit-text-stroke:1.1px currentColor;">MZK w Toruniu Sp. z o.o.</div>
<div class="t" style="left:667.50px;top:1613.79px;font-size:25.65px;-webkit-text-stroke:1.1px currentColor;">Dyspozytor tramwajowy: 56 655 53 36</div>
<div class="t" style="left:667.50px;top:1647.29px;font-size:25.65px;-webkit-text-stroke:1.1px currentColor;">Dyspozytor autobusowy: 56 652 83 20</div>
<div class="t dv" style="left:1521.00px;top:1500.33px;font-size:26.2px;transform:translateX(-50%);letter-spacing:-0.31px;">W dzień roboczy przypadający między dniami</div>
<div class="t dv" style="left:1521.00px;top:1533.63px;font-size:26.2px;transform:translateX(-50%);letter-spacing:-0.31px;">wolnymi (np. piątek po Bożym Ciele i 2.05)</div>
<div class="t dv" style="left:1521.00px;top:1566.93px;font-size:26.2px;transform:translateX(-50%);letter-spacing:-0.31px;">obowiązuje sobotni rozkład jazdy.</div>
<div class="t sf" style="left:139.00px;top:1596.16px;font-size:28.7px;-webkit-text-stroke:0.3px currentColor;color:#222;letter-spacing:2.1px;">MIASTO</div>
<div class="t sf" style="left:139.50px;top:1624.06px;font-size:37.3px;-webkit-text-stroke:0.3px currentColor;color:#222;letter-spacing:2.4px;">TORUŃ</div>
<svg width="90" height="85" viewBox="0 0 1850 1747" style="left:60px;top:95px;">
<g fill="#1d191e">
<path d="M310,145 H1450 Q1490,150 1505,200 L1535,400 L1548,1430 H225 L238,400 L268,200 Q280,150 310,145 Z"/>
<path d="M200,212 H275 L250,628 L175,600 Q148,590 145,550 L126,375 Q126,340 160,325 L180,312 L182,235 Q184,212 200,212 Z"/>
<path d="M1525,328 L1585,332 Q1640,360 1648,425 L1655,650 Q1655,682 1622,690 L1555,700 L1530,400 Z"/>
<rect x="328" y="1400" width="118" height="172" rx="40"/>
<rect x="1343" y="1400" width="118" height="172" rx="40"/>
</g>
<g fill="#fff">
<rect x="368" y="228" width="1055" height="115" rx="14"/>
<path d="M292,405 H868 V1030 L300,1066 Z"/>
<path d="M905,405 H1500 V966 L905,1030 Z"/>
<circle cx="296" cy="1246" r="21"/><circle cx="361" cy="1268" r="21"/><circle cx="316" cy="1377" r="21"/>
<circle cx="1400" cy="1276" r="21"/><circle cx="1465" cy="1246" r="21"/><circle cx="1470" cy="1386" r="21"/>
</g>
<path d="M255,1290 Q400,1320 485,1418" fill="none" stroke="#d8d8d8" stroke-width="22"/>
<path d="M1535,1290 Q1390,1320 1310,1418" fill="none" stroke="#d8d8d8" stroke-width="22"/>
<path d="M470,1360 H1320" fill="none" stroke="#8a888b" stroke-width="30"/>
</svg>
<svg width="1920" height="1747" viewBox="0 0 1920 1747"><path d="M1714.40,87.80h27.89v3.77h-27.89zM1746.28,87.80h7.97v3.77h-7.97zM1766.21,87.80h3.98v3.77h-3.98zM1778.16,87.80h19.93v3.77h-19.93zM1806.06,87.80h7.97v3.77h-7.97zM1818.01,87.80h27.89v3.77h-27.89zM1714.40,91.50h3.98v3.77h-3.98zM1738.31,91.50h3.98v3.77h-3.98zM1746.28,91.50h3.98v3.77h-3.98zM1754.25,91.50h7.97v3.77h-7.97zM1766.21,91.50h3.98v3.77h-3.98zM1786.13,91.50h3.98v3.77h-3.98zM1794.10,91.50h19.93v3.77h-19.93zM1818.01,91.50h3.98v3.77h-3.98zM1841.92,91.50h3.98v3.77h-3.98zM1714.40,95.21h3.98v3.77h-3.98zM1722.37,95.21h11.96v3.77h-11.96zM1738.31,95.21h3.98v3.77h-3.98zM1750.27,95.21h7.97v3.77h-7.97zM1778.16,95.21h3.98v3.77h-3.98zM1786.13,95.21h7.97v3.77h-7.97zM1802.07,95.21h3.98v3.77h-3.98zM1810.04,95.21h3.98v3.77h-3.98zM1818.01,95.21h3.98v3.77h-3.98zM1825.98,95.21h11.96v3.77h-11.96zM1841.92,95.21h3.98v3.77h-3.98zM1714.40,98.91h3.98v3.77h-3.98zM1722.37,98.91h11.96v3.77h-11.96zM1738.31,98.91h3.98v3.77h-3.98zM1746.28,98.91h3.98v3.77h-3.98zM1754.25,98.91h7.97v3.77h-7.97zM1770.19,98.91h7.97v3.77h-7.97zM1782.14,98.91h3.98v3.77h-3.98zM1802.07,98.91h11.96v3.77h-11.96zM1818.01,98.91h3.98v3.77h-3.98zM1825.98,98.91h11.96v3.77h-11.96zM1841.92,98.91h3.98v3.77h-3.98zM1714.40,102.62h3.98v3.77h-3.98zM1722.37,102.62h11.96v3.77h-11.96zM1738.31,102.62h3.98v3.77h-3.98zM1754.25,102.62h7.97v3.77h-7.97zM1770.19,102.62h3.98v3.77h-3.98zM1786.13,102.62h7.97v3.77h-7.97zM1798.09,102.62h3.98v3.77h-3.98zM1818.01,102.62h3.98v3.77h-3.98zM1825.98,102.62h11.96v3.77h-11.96zM1841.92,102.62h3.98v3.77h-3.98zM1714.40,106.32h3.98v3.77h-3.98zM1738.31,106.32h3.98v3.77h-3.98zM1758.24,106.32h11.96v3.77h-11.96zM1786.13,106.32h7.97v3.77h-7.97zM1798.09,106.32h3.98v3.77h-3.98zM1818.01,106.32h3.98v3.77h-3.98zM1841.92,106.32h3.98v3.77h-3.98zM1714.40,110.03h27.89v3.77h-27.89zM1746.28,110.03h3.98v3.77h-3.98zM1754.25,110.03h3.98v3.77h-3.98zM1762.22,110.03h3.98v3.77h-3.98zM1770.19,110.03h3.98v3.77h-3.98zM1778.16,110.03h3.98v3.77h-3.98zM1786.13,110.03h3.98v3.77h-3.98zM1794.10,110.03h3.98v3.77h-3.98zM1802.07,110.03h3.98v3.77h-3.98zM1810.04,110.03h3.98v3.77h-3.98zM1818.01,110.03h27.89v3.77h-27.89zM1746.28,113.73h7.97v3.77h-7.97zM1758.24,113.73h7.97v3.77h-7.97zM1782.14,113.73h3.98v3.77h-3.98zM1806.06,113.73h7.97v3.77h-7.97zM1714.40,117.44h3.98v3.77h-3.98zM1722.37,117.44h7.97v3.77h-7.97zM1734.33,117.44h11.96v3.77h-11.96zM1754.25,117.44h3.98v3.77h-3.98zM1762.22,117.44h3.98v3.77h-3.98zM1770.19,117.44h3.98v3.77h-3.98zM1782.14,117.44h3.98v3.77h-3.98zM1790.12,117.44h11.96v3.77h-11.96zM1818.01,117.44h3.98v3.77h-3.98zM1829.97,117.44h3.98v3.77h-3.98zM1837.94,117.44h7.97v3.77h-7.97zM1718.38,121.14h19.93v3.77h-19.93zM1742.30,121.14h3.98v3.77h-3.98zM1754.25,121.14h3.98v3.77h-3.98zM1762.22,121.14h3.98v3.77h-3.98zM1778.16,121.14h3.98v3.77h-3.98zM1790.12,121.14h19.93v3.77h-19.93zM1814.03,121.14h7.97v3.77h-7.97zM1829.97,121.14h15.94v3.77h-15.94zM1714.40,124.85h3.98v3.77h-3.98zM1722.37,124.85h11.96v3.77h-11.96zM1738.31,124.85h7.97v3.77h-7.97zM1750.27,124.85h11.96v3.77h-11.96zM1770.19,124.85h3.98v3.77h-3.98zM1778.16,124.85h7.97v3.77h-7.97zM1794.10,124.85h3.98v3.77h-3.98zM1806.06,124.85h27.89v3.77h-27.89zM1837.94,124.85h7.97v3.77h-7.97zM1714.40,128.56h11.96v3.77h-11.96zM1742.30,128.56h11.96v3.77h-11.96zM1762.22,128.56h15.94v3.77h-15.94zM1794.10,128.56h3.98v3.77h-3.98zM1810.04,128.56h3.98v3.77h-3.98zM1822.00,128.56h3.98v3.77h-3.98zM1829.97,128.56h3.98v3.77h-3.98zM1837.94,128.56h3.98v3.77h-3.98zM1718.38,132.26h7.97v3.77h-7.97zM1730.34,132.26h3.98v3.77h-3.98zM1738.31,132.26h7.97v3.77h-7.97zM1758.24,132.26h3.98v3.77h-3.98zM1778.16,132.26h19.93v3.77h-19.93zM1802.07,132.26h3.98v3.77h-3.98zM1814.03,132.26h3.98v3.77h-3.98zM1822.00,132.26h11.96v3.77h-11.96zM1837.94,132.26h7.97v3.77h-7.97zM1722.37,135.97h3.98v3.77h-3.98zM1730.34,135.97h7.97v3.77h-7.97zM1746.28,135.97h3.98v3.77h-3.98zM1758.24,135.97h3.98v3.77h-3.98zM1766.21,135.97h3.98v3.77h-3.98zM1774.18,135.97h3.98v3.77h-3.98zM1786.13,135.97h7.97v3.77h-7.97zM1802.07,135.97h3.98v3.77h-3.98zM1810.04,135.97h3.98v3.77h-3.98zM1822.00,135.97h3.98v3.77h-3.98zM1829.97,135.97h3.98v3.77h-3.98zM1837.94,135.97h3.98v3.77h-3.98zM1718.38,139.67h3.98v3.77h-3.98zM1726.36,139.67h15.94v3.77h-15.94zM1750.27,139.67h3.98v3.77h-3.98zM1758.24,139.67h11.96v3.77h-11.96zM1778.16,139.67h7.97v3.77h-7.97zM1790.12,139.67h7.97v3.77h-7.97zM1814.03,139.67h3.98v3.77h-3.98zM1825.98,139.67h11.96v3.77h-11.96zM1726.36,143.38h11.96v3.77h-11.96zM1742.30,143.38h3.98v3.77h-3.98zM1750.27,143.38h7.97v3.77h-7.97zM1766.21,143.38h11.96v3.77h-11.96zM1786.13,143.38h7.97v3.77h-7.97zM1798.09,143.38h3.98v3.77h-3.98zM1814.03,143.38h7.97v3.77h-7.97zM1833.95,143.38h3.98v3.77h-3.98zM1718.38,147.08h11.96v3.77h-11.96zM1738.31,147.08h3.98v3.77h-3.98zM1750.27,147.08h11.96v3.77h-11.96zM1794.10,147.08h11.96v3.77h-11.96zM1810.04,147.08h11.96v3.77h-11.96zM1825.98,147.08h11.96v3.77h-11.96zM1714.40,150.78h3.98v3.77h-3.98zM1722.37,150.78h3.98v3.77h-3.98zM1730.34,150.78h7.97v3.77h-7.97zM1758.24,150.78h3.98v3.77h-3.98zM1770.19,150.78h19.93v3.77h-19.93zM1802.07,150.78h19.93v3.77h-19.93zM1825.98,150.78h7.97v3.77h-7.97zM1837.94,150.78h7.97v3.77h-7.97zM1718.38,154.49h11.96v3.77h-11.96zM1734.33,154.49h7.97v3.77h-7.97zM1774.18,154.49h3.98v3.77h-3.98zM1810.04,154.49h7.97v3.77h-7.97zM1825.98,154.49h3.98v3.77h-3.98zM1833.95,154.49h7.97v3.77h-7.97zM1714.40,158.19h11.96v3.77h-11.96zM1730.34,158.19h3.98v3.77h-3.98zM1758.24,158.19h7.97v3.77h-7.97zM1782.14,158.19h11.96v3.77h-11.96zM1802.07,158.19h3.98v3.77h-3.98zM1810.04,158.19h3.98v3.77h-3.98zM1822.00,158.19h7.97v3.77h-7.97zM1837.94,158.19h7.97v3.77h-7.97zM1738.31,161.90h3.98v3.77h-3.98zM1762.22,161.90h11.96v3.77h-11.96zM1782.14,161.90h3.98v3.77h-3.98zM1794.10,161.90h7.97v3.77h-7.97zM1806.06,161.90h3.98v3.77h-3.98zM1829.97,161.90h7.97v3.77h-7.97zM1718.38,165.61h3.98v3.77h-3.98zM1726.36,165.61h3.98v3.77h-3.98zM1742.30,165.61h3.98v3.77h-3.98zM1782.14,165.61h3.98v3.77h-3.98zM1790.12,165.61h7.97v3.77h-7.97zM1802.07,165.61h7.97v3.77h-7.97zM1818.01,165.61h3.98v3.77h-3.98zM1829.97,165.61h3.98v3.77h-3.98zM1841.92,165.61h3.98v3.77h-3.98zM1714.40,169.31h11.96v3.77h-11.96zM1730.34,169.31h3.98v3.77h-3.98zM1738.31,169.31h3.98v3.77h-3.98zM1750.27,169.31h3.98v3.77h-3.98zM1758.24,169.31h15.94v3.77h-15.94zM1778.16,169.31h7.97v3.77h-7.97zM1798.09,169.31h15.94v3.77h-15.94zM1822.00,169.31h7.97v3.77h-7.97zM1833.95,169.31h11.96v3.77h-11.96zM1714.40,173.01h3.98v3.77h-3.98zM1722.37,173.01h7.97v3.77h-7.97zM1734.33,173.01h3.98v3.77h-3.98zM1754.25,173.01h7.97v3.77h-7.97zM1766.21,173.01h3.98v3.77h-3.98zM1778.16,173.01h3.98v3.77h-3.98zM1794.10,173.01h3.98v3.77h-3.98zM1810.04,173.01h3.98v3.77h-3.98zM1822.00,173.01h3.98v3.77h-3.98zM1837.94,173.01h3.98v3.77h-3.98zM1718.38,176.72h3.98v3.77h-3.98zM1730.34,176.72h15.94v3.77h-15.94zM1750.27,176.72h3.98v3.77h-3.98zM1766.21,176.72h7.97v3.77h-7.97zM1778.16,176.72h15.94v3.77h-15.94zM1802.07,176.72h3.98v3.77h-3.98zM1810.04,176.72h23.91v3.77h-23.91zM1837.94,176.72h7.97v3.77h-7.97zM1746.28,180.43h19.93v3.77h-19.93zM1770.19,180.43h7.97v3.77h-7.97zM1782.14,180.43h11.96v3.77h-11.96zM1802.07,180.43h11.96v3.77h-11.96zM1825.98,180.43h7.97v3.77h-7.97zM1714.40,184.13h27.89v3.77h-27.89zM1746.28,184.13h7.97v3.77h-7.97zM1766.21,184.13h7.97v3.77h-7.97zM1778.16,184.13h3.98v3.77h-3.98zM1790.12,184.13h7.97v3.77h-7.97zM1802.07,184.13h11.96v3.77h-11.96zM1818.01,184.13h3.98v3.77h-3.98zM1825.98,184.13h3.98v3.77h-3.98zM1714.40,187.83h3.98v3.77h-3.98zM1738.31,187.83h3.98v3.77h-3.98zM1746.28,187.83h3.98v3.77h-3.98zM1758.24,187.83h19.93v3.77h-19.93zM1794.10,187.83h7.97v3.77h-7.97zM1810.04,187.83h3.98v3.77h-3.98zM1825.98,187.83h3.98v3.77h-3.98zM1833.95,187.83h3.98v3.77h-3.98zM1841.92,187.83h3.98v3.77h-3.98zM1714.40,191.54h3.98v3.77h-3.98zM1722.37,191.54h11.96v3.77h-11.96zM1738.31,191.54h3.98v3.77h-3.98zM1750.27,191.54h7.97v3.77h-7.97zM1766.21,191.54h15.94v3.77h-15.94zM1798.09,191.54h31.88v3.77h-31.88zM1833.95,191.54h7.97v3.77h-7.97zM1714.40,195.25h3.98v3.77h-3.98zM1722.37,195.25h11.96v3.77h-11.96zM1738.31,195.25h3.98v3.77h-3.98zM1746.28,195.25h15.94v3.77h-15.94zM1774.18,195.25h7.97v3.77h-7.97zM1786.13,195.25h3.98v3.77h-3.98zM1841.92,195.25h3.98v3.77h-3.98zM1714.40,198.95h3.98v3.77h-3.98zM1722.37,198.95h11.96v3.77h-11.96zM1738.31,198.95h3.98v3.77h-3.98zM1746.28,198.95h7.97v3.77h-7.97zM1770.19,198.95h7.97v3.77h-7.97zM1786.13,198.95h3.98v3.77h-3.98zM1810.04,198.95h15.94v3.77h-15.94zM1833.95,198.95h3.98v3.77h-3.98zM1714.40,202.66h3.98v3.77h-3.98zM1738.31,202.66h3.98v3.77h-3.98zM1750.27,202.66h3.98v3.77h-3.98zM1758.24,202.66h7.97v3.77h-7.97zM1774.18,202.66h3.98v3.77h-3.98zM1782.14,202.66h3.98v3.77h-3.98zM1794.10,202.66h3.98v3.77h-3.98zM1810.04,202.66h3.98v3.77h-3.98zM1818.01,202.66h3.98v3.77h-3.98zM1825.98,202.66h7.97v3.77h-7.97zM1841.92,202.66h3.98v3.77h-3.98zM1714.40,206.36h27.89v3.77h-27.89zM1746.28,206.36h3.98v3.77h-3.98zM1758.24,206.36h11.96v3.77h-11.96zM1782.14,206.36h3.98v3.77h-3.98zM1794.10,206.36h7.97v3.77h-7.97zM1806.06,206.36h3.98v3.77h-3.98zM1833.95,206.36h3.98v3.77h-3.98z" fill="#000"/></svg>
<svg width="76" height="88" viewBox="0 0 1509 1747" style="left:58px;top:1584px;">
<g stroke="#8b8b8b" stroke-width="14" fill="#cfcfcf">
<path d="M120,1060 Q85,800 150,540 Q250,290 400,170 Q480,150 505,230 Q540,360 640,470 L360,700 L215,790 Q150,900 170,1010 Z"/>
<path d="M900,440 Q930,250 1040,150 Q1130,120 1200,250 Q1310,480 1350,800 Q1350,1080 1245,1290 Q1190,1270 1160,1100 Q1110,850 1030,640 Z"/>
</g>
<g stroke="#9a9a9a" stroke-width="10" fill="none">
<path d="M200,760 Q190,560 330,330"/><path d="M280,720 Q290,520 420,300"/><path d="M360,680 Q400,500 480,340"/><path d="M160,900 Q150,700 240,480"/>
<path d="M1000,560 Q1010,330 1080,220"/><path d="M1080,700 Q1120,450 1150,300"/><path d="M1150,900 Q1210,650 1220,430"/><path d="M1200,1100 Q1280,850 1290,640"/><path d="M1230,1230 Q1320,1000 1330,850"/>
</g>
<ellipse cx="745" cy="330" rx="155" ry="140" fill="#33241f"/>
<path d="M700,300 Q720,230 800,250 Q850,290 840,390 Q820,450 770,455 L800,500 L680,500 L720,430 Q690,380 700,300 Z" fill="#f2c9a5" stroke="#33241f" stroke-width="8"/>
<path d="M640,470 Q760,520 900,455 Q1010,540 1040,610 Q1010,720 960,790 Q1010,900 1040,1100 Q1120,1090 1140,1180 Q1150,1300 1080,1370 Q1010,1450 920,1400 L905,800 L760,775 Q700,700 640,620 L390,770 L340,700 Z" fill="#1ea3e0" stroke="#0d5f8c" stroke-width="10"/>
<path d="M1075,1120 Q1140,1150 1150,1290 Q1120,1310 1100,1280 Q1110,1190 1060,1140 Z" fill="#d8a80f"/>
<path d="M212,782 H910 V1210 C905,1480 700,1620 560,1628 C420,1620 210,1480 205,1210 Z" fill="#fff" stroke="#111" stroke-width="14"/>
<path d="M214,1195 H908 V1215 C903,1475 700,1612 560,1620 C420,1612 215,1475 214,1215 Z" fill="#b41e24"/>
<g fill="#b41e24">
<rect x="278" y="880" width="160" height="330"/><rect x="482" y="880" width="160" height="330"/><rect x="700" y="880" width="160" height="330"/>
</g>
<g fill="#fff"><rect x="318" y="870" width="26" height="34"/><rect x="376" y="870" width="26" height="34"/><rect x="522" y="870" width="26" height="34"/><rect x="580" y="870" width="26" height="34"/><rect x="740" y="870" width="26" height="34"/><rect x="798" y="870" width="26" height="34"/></g>
<g fill="#5a1013"><rect x="340" y="1030" width="36" height="70"/><rect x="762" y="1030" width="36" height="70"/></g>
<path d="M450,1350 L562,1300 V1595 L450,1560 Z M660,1300 L772,1350 V1560 L660,1595 Z" fill="#f6c915" stroke="#7a5c00" stroke-width="8"/>
<rect x="575" y="1320" width="75" height="285" fill="#111"/>
<path d="M170,700 L215,670 L380,800 L390,860 L340,870 L300,800 L205,750 Z" fill="#c9a227" stroke="#7a5c00" stroke-width="8"/>
</svg>
</div></body></html>
